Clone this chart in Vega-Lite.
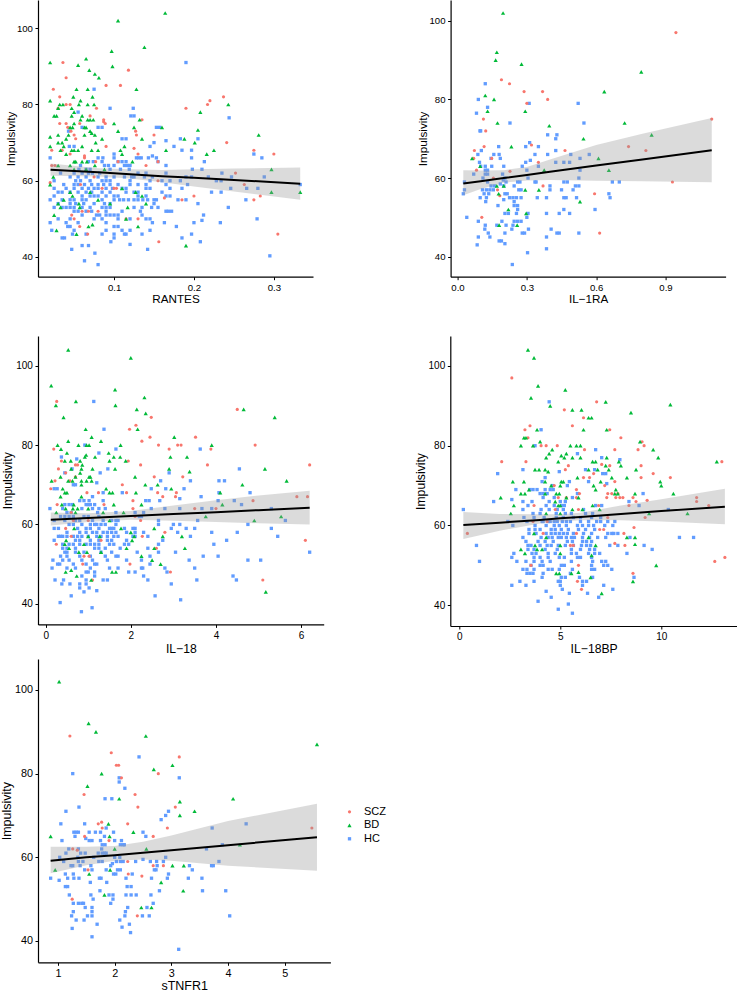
{"$schema":"https://vega.github.io/schema/vega-lite/v6.json","background":"white","padding":0,"config":{"view":{"stroke":null},"font":"Liberation Sans","axis":{"grid":false,"domainColor":"#000","domainWidth":1.2,"tickColor":"#000","tickWidth":1,"tickSize":3,"labelColor":"#000","labelFont":"Liberation Sans","labelPadding":2.6,"titleFont":"Liberation Sans","titleFontWeight":"normal","titleColor":"#000"}},"datasets":{
"a":[
{"x":0.19,"y":91,"g":"HC"},{"x":0.075,"y":84,"g":"HC"},{"x":0.095,"y":79,"g":"HC"},{"x":0.124,"y":79,"g":"HC"},{"x":0.055,"y":78,"g":"HC"},{"x":0.121,"y":77,"g":"HC"},{"x":0.125,"y":77,"g":"HC"},{"x":0.244,"y":76.5,"g":"HC"},{"x":0.06,"y":74,"g":"HC"},{"x":0.08,"y":74,"g":"HC"},{"x":0.085,"y":74,"g":"HC"},{"x":0.153,"y":74,"g":"HC"},{"x":0.157,"y":74,"g":"HC"},{"x":0.043,"y":73,"g":"HC"},{"x":0.11,"y":71,"g":"HC"},{"x":0.115,"y":71,"g":"HC"},{"x":0.183,"y":71,"g":"HC"},{"x":0.205,"y":71,"g":"HC"},{"x":0.165,"y":70.5,"g":"HC"},{"x":0.15,"y":70,"g":"HC"},{"x":0.044,"y":69,"g":"HC"},{"x":0.05,"y":69,"g":"HC"},{"x":0.145,"y":69,"g":"HC"},{"x":0.175,"y":69,"g":"HC"},{"x":0.185,"y":68,"g":"HC"},{"x":0.197,"y":68,"g":"HC"},{"x":0.1,"y":67,"g":"HC"},{"x":0.275,"y":67,"g":"HC"},{"x":0.148,"y":66.5,"g":"HC"},
{"x":0.02,"y":66,"g":"HC"},{"x":0.08,"y":66,"g":"HC"},{"x":0.086,"y":66,"g":"HC"},{"x":0.1,"y":66,"g":"HC"},{"x":0.128,"y":66,"g":"HC"},{"x":0.131,"y":66,"g":"HC"},{"x":0.134,"y":66,"g":"HC"},{"x":0.143,"y":66,"g":"HC"},{"x":0.153,"y":66,"g":"HC"},{"x":0.197,"y":66,"g":"HC"},{"x":0.285,"y":66,"g":"HC"},
{"x":0.068,"y":65,"g":"HC"},{"x":0.074,"y":65,"g":"HC"},{"x":0.085,"y":65,"g":"HC"},{"x":0.105,"y":65,"g":"HC"},{"x":0.11,"y":65,"g":"HC"},{"x":0.115,"y":65,"g":"HC"},{"x":0.213,"y":65,"g":"HC"},{"x":0.155,"y":65,"g":"HC"},
{"x":0.058,"y":64,"g":"HC"},{"x":0.088,"y":64,"g":"HC"},{"x":0.093,"y":64,"g":"HC"},{"x":0.1,"y":64,"g":"HC"},{"x":0.113,"y":64,"g":"HC"},{"x":0.117,"y":64,"g":"HC"},{"x":0.12,"y":64,"g":"HC"},{"x":0.165,"y":64,"g":"HC"},
{"x":0.056,"y":63,"g":"HC"},{"x":0.065,"y":63,"g":"HC"},{"x":0.07,"y":63,"g":"HC"},{"x":0.095,"y":63,"g":"HC"},{"x":0.108,"y":63,"g":"HC"},{"x":0.119,"y":63,"g":"HC"},{"x":0.198,"y":63,"g":"HC"},{"x":0.21,"y":63,"g":"HC"},
{"x":0.033,"y":62,"g":"HC"},{"x":0.05,"y":62,"g":"HC"},{"x":0.06,"y":62,"g":"HC"},{"x":0.068,"y":62,"g":"HC"},{"x":0.073,"y":62,"g":"HC"},{"x":0.082,"y":62,"g":"HC"},{"x":0.13,"y":62,"g":"HC"},{"x":0.14,"y":62,"g":"HC"},{"x":0.165,"y":62,"g":"HC"},{"x":0.235,"y":62,"g":"HC"},
{"x":0.045,"y":61,"g":"HC"},{"x":0.055,"y":61,"g":"HC"},{"x":0.065,"y":61,"g":"HC"},{"x":0.08,"y":61,"g":"HC"},{"x":0.09,"y":61,"g":"HC"},{"x":0.1,"y":61,"g":"HC"},{"x":0.113,"y":61,"g":"HC"},{"x":0.122,"y":61,"g":"HC"},{"x":0.125,"y":61,"g":"HC"},{"x":0.138,"y":61,"g":"HC"},{"x":0.148,"y":61,"g":"HC"},{"x":0.19,"y":61,"g":"HC"},{"x":0.197,"y":61,"g":"HC"},{"x":0.218,"y":61,"g":"HC"},{"x":0.247,"y":61,"g":"HC"},{"x":0.288,"y":61,"g":"HC"},
{"x":0.025,"y":60,"g":"HC"},{"x":0.052,"y":60,"g":"HC"},{"x":0.058,"y":60,"g":"HC"},{"x":0.07,"y":60,"g":"HC"},{"x":0.085,"y":60,"g":"HC"},{"x":0.09,"y":60,"g":"HC"},{"x":0.095,"y":60,"g":"HC"},{"x":0.12,"y":60,"g":"HC"},{"x":0.145,"y":60,"g":"HC"},{"x":0.16,"y":60,"g":"HC"},{"x":0.17,"y":60,"g":"HC"},{"x":0.183,"y":60,"g":"HC"},{"x":0.228,"y":60,"g":"HC"},{"x":0.234,"y":60,"g":"HC"},
{"x":0.037,"y":59,"g":"HC"},{"x":0.05,"y":59,"g":"HC"},{"x":0.055,"y":59,"g":"HC"},{"x":0.063,"y":59,"g":"HC"},{"x":0.072,"y":59,"g":"HC"},{"x":0.08,"y":59,"g":"HC"},{"x":0.087,"y":59,"g":"HC"},{"x":0.095,"y":59,"g":"HC"},{"x":0.105,"y":59,"g":"HC"},{"x":0.12,"y":59,"g":"HC"},{"x":0.13,"y":59,"g":"HC"},{"x":0.14,"y":59,"g":"HC"},{"x":0.165,"y":59,"g":"HC"},{"x":0.192,"y":59,"g":"HC"},{"x":0.333,"y":59,"g":"HC"},
{"x":0.025,"y":58,"g":"HC"},{"x":0.04,"y":58,"g":"HC"},{"x":0.05,"y":58,"g":"HC"},{"x":0.06,"y":58,"g":"HC"},{"x":0.068,"y":58,"g":"HC"},{"x":0.075,"y":58,"g":"HC"},{"x":0.08,"y":58,"g":"HC"},{"x":0.09,"y":58,"g":"HC"},{"x":0.098,"y":58,"g":"HC"},{"x":0.11,"y":58,"g":"HC"},{"x":0.115,"y":58,"g":"HC"},{"x":0.14,"y":58,"g":"HC"},{"x":0.145,"y":58,"g":"HC"},{"x":0.17,"y":58,"g":"HC"},{"x":0.185,"y":58,"g":"HC"},{"x":0.246,"y":58,"g":"HC"},{"x":0.266,"y":58,"g":"HC"},{"x":0.28,"y":58,"g":"HC"},
{"x":0.03,"y":57,"g":"HC"},{"x":0.035,"y":57,"g":"HC"},{"x":0.045,"y":57,"g":"HC"},{"x":0.055,"y":57,"g":"HC"},{"x":0.065,"y":57,"g":"HC"},{"x":0.072,"y":57,"g":"HC"},{"x":0.085,"y":57,"g":"HC"},{"x":0.095,"y":57,"g":"HC"},{"x":0.115,"y":57,"g":"HC"},{"x":0.125,"y":57,"g":"HC"},{"x":0.13,"y":57,"g":"HC"},{"x":0.16,"y":57,"g":"HC"},{"x":0.222,"y":57,"g":"HC"},{"x":0.234,"y":57,"g":"HC"},
{"x":0.025,"y":56,"g":"HC"},{"x":0.06,"y":56,"g":"HC"},{"x":0.07,"y":56,"g":"HC"},{"x":0.075,"y":56,"g":"HC"},{"x":0.08,"y":56,"g":"HC"},{"x":0.09,"y":56,"g":"HC"},{"x":0.1,"y":56,"g":"HC"},{"x":0.105,"y":56,"g":"HC"},{"x":0.13,"y":56,"g":"HC"},{"x":0.14,"y":56,"g":"HC"},{"x":0.165,"y":56,"g":"HC"},{"x":0.17,"y":56,"g":"HC"},
{"x":0.02,"y":55,"g":"HC"},{"x":0.035,"y":55,"g":"HC"},{"x":0.045,"y":55,"g":"HC"},{"x":0.05,"y":55,"g":"HC"},{"x":0.06,"y":55,"g":"HC"},{"x":0.065,"y":55,"g":"HC"},{"x":0.085,"y":55,"g":"HC"},{"x":0.1,"y":55,"g":"HC"},{"x":0.107,"y":55,"g":"HC"},{"x":0.112,"y":55,"g":"HC"},{"x":0.118,"y":55,"g":"HC"},{"x":0.125,"y":55,"g":"HC"},{"x":0.13,"y":55,"g":"HC"},{"x":0.136,"y":55,"g":"HC"},{"x":0.142,"y":55,"g":"HC"},{"x":0.15,"y":55,"g":"HC"},{"x":0.153,"y":55,"g":"HC"},{"x":0.18,"y":55,"g":"HC"},{"x":0.19,"y":55,"g":"HC"},{"x":0.265,"y":55,"g":"HC"},
{"x":0.03,"y":54,"g":"HC"},{"x":0.045,"y":54,"g":"HC"},{"x":0.052,"y":54,"g":"HC"},{"x":0.062,"y":54,"g":"HC"},{"x":0.075,"y":54,"g":"HC"},{"x":0.088,"y":54,"g":"HC"},{"x":0.095,"y":54,"g":"HC"},{"x":0.15,"y":54,"g":"HC"},{"x":0.205,"y":54,"g":"HC"},
{"x":0.025,"y":53,"g":"HC"},{"x":0.035,"y":53,"g":"HC"},{"x":0.04,"y":53,"g":"HC"},{"x":0.045,"y":53,"g":"HC"},{"x":0.05,"y":53,"g":"HC"},{"x":0.06,"y":53,"g":"HC"},{"x":0.07,"y":53,"g":"HC"},{"x":0.085,"y":53,"g":"HC"},{"x":0.09,"y":53,"g":"HC"},{"x":0.095,"y":53,"g":"HC"},{"x":0.125,"y":53,"g":"HC"},{"x":0.135,"y":53,"g":"HC"},{"x":0.147,"y":53,"g":"HC"},{"x":0.155,"y":53,"g":"HC"},{"x":0.243,"y":53,"g":"HC"},
{"x":0.05,"y":52,"g":"HC"},{"x":0.055,"y":52,"g":"HC"},{"x":0.065,"y":52,"g":"HC"},{"x":0.072,"y":52,"g":"HC"},{"x":0.09,"y":52,"g":"HC"},{"x":0.11,"y":52,"g":"HC"},{"x":0.133,"y":52,"g":"HC"},{"x":0.165,"y":52,"g":"HC"},{"x":0.168,"y":52,"g":"HC"},{"x":0.172,"y":52,"g":"HC"},
{"x":0.06,"y":51,"g":"HC"},{"x":0.078,"y":51,"g":"HC"},{"x":0.082,"y":51,"g":"HC"},{"x":0.09,"y":51,"g":"HC"},{"x":0.095,"y":51,"g":"HC"},{"x":0.1,"y":51,"g":"HC"},{"x":0.105,"y":51,"g":"HC"},{"x":0.135,"y":51,"g":"HC"},{"x":0.212,"y":51,"g":"HC"},
{"x":0.03,"y":50,"g":"HC"},{"x":0.045,"y":50,"g":"HC"},{"x":0.075,"y":50,"g":"HC"},{"x":0.085,"y":50,"g":"HC"},{"x":0.105,"y":50,"g":"HC"},{"x":0.12,"y":50,"g":"HC"},{"x":0.14,"y":50,"g":"HC"},{"x":0.145,"y":50,"g":"HC"},{"x":0.21,"y":49.6,"g":"HC"},{"x":0.279,"y":50,"g":"HC"},
{"x":0.02,"y":49,"g":"HC"},{"x":0.04,"y":49,"g":"HC"},{"x":0.055,"y":49,"g":"HC"},{"x":0.09,"y":49,"g":"HC"},{"x":0.148,"y":49,"g":"HC"},{"x":0.163,"y":49,"g":"HC"},{"x":0.2,"y":49,"g":"HC"},{"x":0.233,"y":49,"g":"HC"},
{"x":0.042,"y":48,"g":"HC"},{"x":0.045,"y":48,"g":"HC"},{"x":0.1,"y":48,"g":"HC"},{"x":0.105,"y":48,"g":"HC"},{"x":0.178,"y":48,"g":"HC"},{"x":0.022,"y":47,"g":"HC"},{"x":0.05,"y":47,"g":"HC"},{"x":0.09,"y":47,"g":"HC"},{"x":0.11,"y":47,"g":"HC"},{"x":0.12,"y":47,"g":"HC"},{"x":0.145,"y":47,"g":"HC"},
{"x":0.048,"y":46,"g":"HC"},{"x":0.065,"y":46,"g":"HC"},{"x":0.085,"y":46,"g":"HC"},{"x":0.1,"y":46,"g":"HC"},{"x":0.113,"y":46,"g":"HC"},{"x":0.115,"y":46,"g":"HC"},{"x":0.135,"y":46,"g":"HC"},{"x":0.197,"y":46,"g":"HC"},{"x":0.035,"y":45,"g":"HC"},{"x":0.038,"y":45,"g":"HC"},{"x":0.1,"y":45,"g":"HC"},{"x":0.185,"y":45,"g":"HC"},{"x":0.096,"y":44,"g":"HC"},{"x":0.208,"y":44,"g":"HC"},{"x":0.06,"y":43,"g":"HC"},{"x":0.068,"y":43,"g":"HC"},{"x":0.12,"y":43.3,"g":"HC"},{"x":0.047,"y":42,"g":"HC"},{"x":0.142,"y":42,"g":"HC"},{"x":0.076,"y":41,"g":"HC"},{"x":0.295,"y":40.3,"g":"HC"},{"x":0.063,"y":39,"g":"HC"},{"x":0.08,"y":38,"g":"HC"},
{"x":0.036,"y":91,"g":"SCZ"},{"x":0.118,"y":89,"g":"SCZ"},{"x":0.04,"y":87,"g":"SCZ"},{"x":0.09,"y":85,"g":"SCZ"},{"x":0.108,"y":85,"g":"SCZ"},{"x":0.024,"y":84,"g":"SCZ"},{"x":0.032,"y":82,"g":"SCZ"},{"x":0.237,"y":82,"g":"SCZ"},{"x":0.22,"y":81,"g":"SCZ"},{"x":0.04,"y":80,"g":"SCZ"},{"x":0.045,"y":80,"g":"SCZ"},{"x":0.217,"y":80,"g":"SCZ"},{"x":0.03,"y":79,"g":"SCZ"},{"x":0.078,"y":79,"g":"SCZ"},{"x":0.19,"y":79,"g":"SCZ"},{"x":0.07,"y":77,"g":"SCZ"},{"x":0.087,"y":76,"g":"SCZ"},{"x":0.135,"y":76,"g":"SCZ"},{"x":0.087,"y":75.5,"g":"SCZ"},{"x":0.032,"y":75,"g":"SCZ"},{"x":0.04,"y":75,"g":"SCZ"},{"x":0.057,"y":75,"g":"SCZ"},{"x":0.089,"y":75,"g":"SCZ"},{"x":0.042,"y":74,"g":"SCZ"},{"x":0.046,"y":73,"g":"SCZ"},{"x":0.127,"y":73,"g":"SCZ"},{"x":0.128,"y":72,"g":"SCZ"},{"x":0.15,"y":72,"g":"SCZ"},{"x":0.05,"y":72,"g":"SCZ"},{"x":0.052,"y":71,"g":"SCZ"},{"x":0.241,"y":70,"g":"SCZ"},{"x":0.09,"y":69,"g":"SCZ"},{"x":0.125,"y":68.5,"g":"SCZ"},{"x":0.022,"y":68,"g":"SCZ"},{"x":0.035,"y":68,"g":"SCZ"},{"x":0.275,"y":68,"g":"SCZ"},{"x":0.045,"y":67,"g":"SCZ"},{"x":0.3,"y":67,"g":"SCZ"},{"x":0.13,"y":67,"g":"SCZ"},{"x":0.063,"y":66,"g":"SCZ"},{"x":0.063,"y":66.5,"g":"SCZ"},{"x":0.077,"y":65,"g":"SCZ"},{"x":0.105,"y":65,"g":"SCZ"},{"x":0.155,"y":65,"g":"SCZ"},{"x":0.022,"y":64,"g":"SCZ"},{"x":0.026,"y":64,"g":"SCZ"},{"x":0.14,"y":64,"g":"SCZ"},{"x":0.075,"y":61,"g":"SCZ"},{"x":0.252,"y":62,"g":"SCZ"},{"x":0.155,"y":60,"g":"SCZ"},{"x":0.02,"y":59.5,"g":"SCZ"},{"x":0.058,"y":59,"g":"SCZ"},{"x":0.263,"y":59,"g":"SCZ"},{"x":0.085,"y":58,"g":"SCZ"},{"x":0.1,"y":58,"g":"SCZ"},{"x":0.103,"y":58,"g":"SCZ"},{"x":0.283,"y":56,"g":"SCZ"},{"x":0.2,"y":56,"g":"SCZ"},{"x":0.163,"y":55.5,"g":"SCZ"},{"x":0.185,"y":55,"g":"SCZ"},{"x":0.275,"y":55,"g":"SCZ"},{"x":0.06,"y":52,"g":"SCZ"},{"x":0.068,"y":52,"g":"SCZ"},{"x":0.08,"y":52,"g":"SCZ"},{"x":0.047,"y":51,"g":"SCZ"},{"x":0.05,"y":50,"g":"SCZ"},{"x":0.115,"y":50,"g":"SCZ"},{"x":0.13,"y":50,"g":"SCZ"},{"x":0.057,"y":48,"g":"SCZ"},{"x":0.067,"y":46,"g":"SCZ"},{"x":0.305,"y":46,"g":"SCZ"},{"x":0.156,"y":44,"g":"SCZ"},
{"x":0.164,"y":104,"g":"BD"},{"x":0.105,"y":102,"g":"BD"},{"x":0.138,"y":95,"g":"BD"},{"x":0.097,"y":94,"g":"BD"},{"x":0.065,"y":92,"g":"BD"},{"x":0.02,"y":91,"g":"BD"},{"x":0.055,"y":90.3,"g":"BD"},{"x":0.098,"y":90,"g":"BD"},{"x":0.069,"y":89,"g":"BD"},{"x":0.076,"y":88,"g":"BD"},{"x":0.081,"y":87,"g":"BD"},{"x":0.053,"y":84,"g":"BD"},{"x":0.067,"y":84,"g":"BD"},{"x":0.128,"y":84,"g":"BD"},{"x":0.049,"y":82,"g":"BD"},{"x":0.073,"y":82,"g":"BD"},{"x":0.02,"y":81,"g":"BD"},{"x":0.058,"y":81,"g":"BD"},{"x":0.032,"y":80,"g":"BD"},{"x":0.036,"y":80,"g":"BD"},{"x":0.056,"y":80,"g":"BD"},{"x":0.067,"y":80,"g":"BD"},{"x":0.075,"y":80,"g":"BD"},{"x":0.243,"y":80,"g":"BD"},{"x":0.03,"y":79,"g":"BD"},{"x":0.047,"y":79,"g":"BD"},{"x":0.05,"y":78,"g":"BD"},{"x":0.208,"y":78,"g":"BD"},{"x":0.025,"y":77,"g":"BD"},{"x":0.028,"y":77,"g":"BD"},{"x":0.06,"y":77,"g":"BD"},{"x":0.047,"y":77,"g":"BD"},{"x":0.058,"y":76,"g":"BD"},{"x":0.067,"y":76,"g":"BD"},{"x":0.07,"y":76,"g":"BD"},{"x":0.074,"y":76,"g":"BD"},{"x":0.132,"y":76,"g":"BD"},{"x":0.05,"y":75,"g":"BD"},{"x":0.1,"y":75,"g":"BD"},{"x":0.045,"y":74,"g":"BD"},{"x":0.048,"y":74,"g":"BD"},{"x":0.063,"y":74,"g":"BD"},{"x":0.065,"y":74,"g":"BD"},{"x":0.125,"y":74,"g":"BD"},{"x":0.16,"y":74,"g":"BD"},{"x":0.07,"y":73,"g":"BD"},{"x":0.105,"y":73,"g":"BD"},{"x":0.205,"y":73.3,"g":"BD"},{"x":0.072,"y":72.5,"g":"BD"},{"x":0.076,"y":72,"g":"BD"},{"x":0.02,"y":71.5,"g":"BD"},{"x":0.03,"y":72,"g":"BD"},{"x":0.043,"y":72,"g":"BD"},{"x":0.063,"y":72,"g":"BD"},{"x":0.281,"y":72,"g":"BD"},{"x":0.04,"y":71,"g":"BD"},{"x":0.135,"y":71,"g":"BD"},{"x":0.188,"y":71,"g":"BD"},{"x":0.085,"y":71,"g":"BD"},{"x":0.035,"y":70,"g":"BD"},{"x":0.03,"y":70,"g":"BD"},{"x":0.077,"y":70,"g":"BD"},{"x":0.201,"y":70,"g":"BD"},{"x":0.02,"y":69,"g":"BD"},{"x":0.037,"y":69,"g":"BD"},{"x":0.06,"y":69,"g":"BD"},{"x":0.113,"y":69,"g":"BD"},{"x":0.033,"y":68,"g":"BD"},{"x":0.047,"y":68,"g":"BD"},{"x":0.05,"y":68,"g":"BD"},{"x":0.055,"y":68,"g":"BD"},{"x":0.072,"y":68,"g":"BD"},{"x":0.08,"y":68,"g":"BD"},{"x":0.108,"y":68,"g":"BD"},{"x":0.165,"y":68,"g":"BD"},{"x":0.225,"y":68,"g":"BD"},{"x":0.04,"y":67,"g":"BD"},{"x":0.11,"y":67,"g":"BD"},{"x":0.216,"y":67,"g":"BD"},{"x":0.05,"y":65,"g":"BD"},{"x":0.052,"y":65,"g":"BD"},{"x":0.06,"y":65,"g":"BD"},{"x":0.066,"y":65,"g":"BD"},{"x":0.123,"y":65,"g":"BD"},{"x":0.03,"y":64,"g":"BD"},{"x":0.045,"y":64,"g":"BD"},{"x":0.076,"y":64,"g":"BD"},{"x":0.05,"y":63,"g":"BD"},{"x":0.065,"y":63,"g":"BD"},{"x":0.088,"y":63,"g":"BD"},{"x":0.297,"y":63,"g":"BD"},{"x":0.024,"y":61,"g":"BD"},{"x":0.02,"y":59,"g":"BD"},{"x":0.045,"y":57,"g":"BD"},{"x":0.11,"y":58,"g":"BD"},{"x":0.07,"y":57,"g":"BD"},{"x":0.127,"y":57,"g":"BD"},{"x":0.297,"y":57,"g":"BD"},{"x":0.333,"y":57,"g":"BD"},{"x":0.048,"y":56,"g":"BD"},{"x":0.135,"y":56,"g":"BD"},{"x":0.037,"y":55,"g":"BD"},{"x":0.08,"y":55,"g":"BD"},{"x":0.03,"y":54,"g":"BD"},{"x":0.056,"y":54,"g":"BD"},{"x":0.095,"y":54,"g":"BD"},{"x":0.14,"y":54,"g":"BD"},{"x":0.033,"y":53,"g":"BD"},{"x":0.057,"y":53,"g":"BD"},{"x":0.117,"y":53,"g":"BD"},{"x":0.025,"y":51,"g":"BD"},{"x":0.115,"y":50,"g":"BD"},{"x":0.068,"y":48,"g":"BD"},{"x":0.13,"y":48,"g":"BD"},{"x":0.073,"y":48.5,"g":"BD"},{"x":0.028,"y":47,"g":"BD"},{"x":0.053,"y":46,"g":"BD"},{"x":0.19,"y":43,"g":"BD"}],
"as":[{"x":0.0205,"lo":61.3,"mid":62.9,"hi":64.5},{"x":0.08,"lo":61.1,"mid":62.2,"hi":63.3},{"x":0.12,"lo":60.6,"mid":61.7,"hi":63.0},{"x":0.16,"lo":59.6,"mid":61.2,"hi":62.8},{"x":0.2,"lo":58.5,"mid":60.8,"hi":63.0},{"x":0.25,"lo":57.2,"mid":60.2,"hi":63.2},{"x":0.333,"lo":55.0,"mid":59.2,"hi":63.5}],
"b":[
{"x":0.12,"y":84,"g":"HC"},{"x":0.09,"y":80,"g":"HC"},{"x":0.31,"y":79,"g":"HC"},{"x":0.522,"y":79,"g":"HC"},{"x":0.13,"y":78,"g":"HC"},{"x":0.082,"y":76.5,"g":"HC"},{"x":0.227,"y":74,"g":"HC"},{"x":0.547,"y":74,"g":"HC"},{"x":0.097,"y":72,"g":"HC"},{"x":0.1,"y":72,"g":"HC"},{"x":0.39,"y":71,"g":"HC"},{"x":0.43,"y":71,"g":"HC"},{"x":0.425,"y":70,"g":"HC"},{"x":0.312,"y":69,"g":"HC"},{"x":0.178,"y":68,"g":"HC"},{"x":0.295,"y":68,"g":"HC"},{"x":0.35,"y":68,"g":"HC"},{"x":0.103,"y":67,"g":"HC"},{"x":0.425,"y":67,"g":"HC"},{"x":0.088,"y":66,"g":"HC"},{"x":0.157,"y":66,"g":"HC"},{"x":0.18,"y":66,"g":"HC"},{"x":0.335,"y":66,"g":"HC"},{"x":0.39,"y":66,"g":"HC"},{"x":0.57,"y":66,"g":"HC"},{"x":0.49,"y":66,"g":"HC"},{"x":0.145,"y":65,"g":"HC"},{"x":0.185,"y":65,"g":"HC"},{"x":0.53,"y":65,"g":"HC"},{"x":0.315,"y":64.5,"g":"HC"},{"x":0.095,"y":64,"g":"HC"},{"x":0.295,"y":64,"g":"HC"},{"x":0.425,"y":64,"g":"HC"},{"x":0.46,"y":64,"g":"HC"},{"x":0.485,"y":64,"g":"HC"},{"x":0.1,"y":63,"g":"HC"},{"x":0.12,"y":63,"g":"HC"},{"x":0.148,"y":63,"g":"HC"},{"x":0.2,"y":63,"g":"HC"},{"x":0.28,"y":63,"g":"HC"},{"x":0.35,"y":63,"g":"HC"},{"x":0.12,"y":62,"g":"HC"},{"x":0.13,"y":62,"g":"HC"},{"x":0.3,"y":62,"g":"HC"},{"x":0.53,"y":62,"g":"HC"},{"x":0.07,"y":61,"g":"HC"},{"x":0.12,"y":61,"g":"HC"},{"x":0.13,"y":61,"g":"HC"},{"x":0.195,"y":61,"g":"HC"},{"x":0.11,"y":60,"g":"HC"},{"x":0.205,"y":60,"g":"HC"},{"x":0.305,"y":60,"g":"HC"},{"x":0.525,"y":60,"g":"HC"},{"x":0.198,"y":59.5,"g":"HC"},{"x":0.03,"y":59,"g":"HC"},{"x":0.13,"y":59,"g":"HC"},{"x":0.21,"y":59,"g":"HC"},{"x":0.26,"y":59,"g":"HC"},{"x":0.27,"y":59,"g":"HC"},{"x":0.335,"y":59,"g":"HC"},{"x":0.34,"y":59,"g":"HC"},{"x":0.46,"y":59,"g":"HC"},{"x":0.475,"y":59,"g":"HC"},{"x":0.67,"y":59,"g":"HC"},{"x":0.7,"y":59,"g":"HC"},{"x":0.185,"y":58.5,"g":"HC"},{"x":0.145,"y":58,"g":"HC"},{"x":0.16,"y":58,"g":"HC"},{"x":0.245,"y":58,"g":"HC"},{"x":0.4,"y":58,"g":"HC"},{"x":0.51,"y":58,"g":"HC"},{"x":0.525,"y":58,"g":"HC"},{"x":0.2,"y":58,"g":"HC"},{"x":0.03,"y":57,"g":"HC"},{"x":0.108,"y":57,"g":"HC"},{"x":0.125,"y":57,"g":"HC"},{"x":0.14,"y":57,"g":"HC"},{"x":0.155,"y":57,"g":"HC"},{"x":0.265,"y":57,"g":"HC"},{"x":0.275,"y":57,"g":"HC"},{"x":0.4,"y":57,"g":"HC"},{"x":0.45,"y":57,"g":"HC"},{"x":0.5,"y":57,"g":"HC"},{"x":0.025,"y":56,"g":"HC"},{"x":0.115,"y":56,"g":"HC"},{"x":0.135,"y":56,"g":"HC"},{"x":0.205,"y":56,"g":"HC"},{"x":0.215,"y":56,"g":"HC"},{"x":0.655,"y":56,"g":"HC"},{"x":0.098,"y":55,"g":"HC"},{"x":0.125,"y":55,"g":"HC"},{"x":0.225,"y":55,"g":"HC"},{"x":0.24,"y":55,"g":"HC"},{"x":0.255,"y":55,"g":"HC"},{"x":0.275,"y":55,"g":"HC"},{"x":0.345,"y":55,"g":"HC"},{"x":0.385,"y":55,"g":"HC"},{"x":0.46,"y":55,"g":"HC"},{"x":0.47,"y":55,"g":"HC"},{"x":0.515,"y":55,"g":"HC"},{"x":0.66,"y":55,"g":"HC"},{"x":0.2,"y":54.5,"g":"HC"},{"x":0.122,"y":54,"g":"HC"},{"x":0.245,"y":54,"g":"HC"},{"x":0.175,"y":53,"g":"HC"},{"x":0.245,"y":53,"g":"HC"},{"x":0.26,"y":53,"g":"HC"},{"x":0.26,"y":52,"g":"HC"},{"x":0.46,"y":52,"g":"HC"},{"x":0.595,"y":52,"g":"HC"},{"x":0.205,"y":51,"g":"HC"},{"x":0.22,"y":51,"g":"HC"},{"x":0.255,"y":51,"g":"HC"},{"x":0.305,"y":51,"g":"HC"},{"x":0.385,"y":51,"g":"HC"},{"x":0.44,"y":51,"g":"HC"},{"x":0.485,"y":51,"g":"HC"},{"x":0.04,"y":50,"g":"HC"},{"x":0.3,"y":50,"g":"HC"},{"x":0.09,"y":49,"g":"HC"},{"x":0.192,"y":49,"g":"HC"},{"x":0.245,"y":49,"g":"HC"},{"x":0.26,"y":49,"g":"HC"},{"x":0.275,"y":49,"g":"HC"},{"x":0.12,"y":48,"g":"HC"},{"x":0.17,"y":48,"g":"HC"},{"x":0.21,"y":48,"g":"HC"},{"x":0.24,"y":48,"g":"HC"},{"x":0.118,"y":47,"g":"HC"},{"x":0.235,"y":47,"g":"HC"},{"x":0.307,"y":47,"g":"HC"},{"x":0.405,"y":47,"g":"HC"},{"x":0.133,"y":46,"g":"HC"},{"x":0.205,"y":46,"g":"HC"},{"x":0.28,"y":46,"g":"HC"},{"x":0.29,"y":46,"g":"HC"},{"x":0.43,"y":46,"g":"HC"},{"x":0.44,"y":46,"g":"HC"},{"x":0.525,"y":46,"g":"HC"},{"x":0.09,"y":45,"g":"HC"},{"x":0.14,"y":45,"g":"HC"},{"x":0.385,"y":45,"g":"HC"},{"x":0.18,"y":44,"g":"HC"},{"x":0.19,"y":44,"g":"HC"},{"x":0.205,"y":43.3,"g":"HC"},{"x":0.085,"y":43,"g":"HC"},{"x":0.385,"y":42,"g":"HC"},{"x":0.303,"y":41,"g":"HC"},{"x":0.237,"y":38,"g":"HC"},
{"x":0.945,"y":97,"g":"SCZ"},{"x":0.19,"y":85,"g":"SCZ"},{"x":0.225,"y":84,"g":"SCZ"},{"x":0.288,"y":82,"g":"SCZ"},{"x":0.368,"y":82,"g":"SCZ"},{"x":0.39,"y":80,"g":"SCZ"},{"x":0.3,"y":79,"g":"SCZ"},{"x":0.112,"y":75,"g":"SCZ"},{"x":1.1,"y":75,"g":"SCZ"},{"x":0.122,"y":72,"g":"SCZ"},{"x":0.32,"y":68.4,"g":"SCZ"},{"x":0.115,"y":68,"g":"SCZ"},{"x":0.74,"y":68,"g":"SCZ"},{"x":0.073,"y":67,"g":"SCZ"},{"x":0.465,"y":67,"g":"SCZ"},{"x":0.815,"y":67,"g":"SCZ"},{"x":0.07,"y":65,"g":"SCZ"},{"x":0.148,"y":65,"g":"SCZ"},{"x":0.35,"y":64,"g":"SCZ"},{"x":0.082,"y":62,"g":"SCZ"},{"x":0.227,"y":61.7,"g":"SCZ"},{"x":0.155,"y":60,"g":"SCZ"},{"x":0.93,"y":59,"g":"SCZ"},{"x":0.37,"y":58,"g":"SCZ"},{"x":0.173,"y":57,"g":"SCZ"},{"x":0.593,"y":56,"g":"SCZ"},{"x":0.183,"y":55.5,"g":"SCZ"},{"x":0.105,"y":50,"g":"SCZ"},{"x":0.615,"y":46,"g":"SCZ"},
{"x":0.197,"y":102,"g":"BD"},{"x":0.17,"y":92,"g":"BD"},{"x":0.165,"y":90,"g":"BD"},{"x":0.277,"y":89,"g":"BD"},{"x":0.795,"y":87,"g":"BD"},{"x":0.635,"y":82,"g":"BD"},{"x":0.12,"y":81,"g":"BD"},{"x":0.158,"y":80,"g":"BD"},{"x":0.13,"y":77,"g":"BD"},{"x":0.293,"y":77,"g":"BD"},{"x":0.173,"y":74,"g":"BD"},{"x":0.723,"y":74,"g":"BD"},{"x":0.397,"y":73.3,"g":"BD"},{"x":0.84,"y":71,"g":"BD"},{"x":0.545,"y":70,"g":"BD"},{"x":0.233,"y":68,"g":"BD"},{"x":0.063,"y":65,"g":"BD"},{"x":0.61,"y":65,"g":"BD"},{"x":0.098,"y":63,"g":"BD"},{"x":0.375,"y":62,"g":"BD"},{"x":0.655,"y":62,"g":"BD"},{"x":0.17,"y":58,"g":"BD"},{"x":0.2,"y":58,"g":"BD"},{"x":0.293,"y":57,"g":"BD"},{"x":0.352,"y":57,"g":"BD"},{"x":0.178,"y":56,"g":"BD"},{"x":0.53,"y":54,"g":"BD"},{"x":0.22,"y":52,"g":"BD"},{"x":0.297,"y":51,"g":"BD"},{"x":0.18,"y":48,"g":"BD"},{"x":0.258,"y":48,"g":"BD"}],
"bs":[{"x":0.025,"lo":55.6,"mid":58.6,"hi":62},{"x":0.1,"lo":57.2,"mid":59.2,"hi":61.9},{"x":0.2,"lo":58.8,"mid":60,"hi":62},{"x":0.3,"lo":59.4,"mid":60.8,"hi":62.8},{"x":0.4,"lo":59.5,"mid":61.6,"hi":64.7},{"x":0.6,"lo":59.3,"mid":63.2,"hi":68.4},{"x":0.8,"lo":59.2,"mid":64.7,"hi":71.3},{"x":1.1,"lo":58.9,"mid":67.1,"hi":75.3}],
"c":[
{"x":1.13,"y":91,"g":"HC"},{"x":1.37,"y":84,"g":"HC"},{"x":0.92,"y":80,"g":"HC"},{"x":1.65,"y":79,"g":"HC"},{"x":3.63,"y":79,"g":"HC"},{"x":1.25,"y":78,"g":"HC"},{"x":0.37,"y":77,"g":"HC"},{"x":0.73,"y":76.5,"g":"HC"},{"x":0.62,"y":74,"g":"HC"},{"x":1.46,"y":74,"g":"HC"},{"x":4.55,"y":74,"g":"HC"},{"x":0.45,"y":73,"g":"HC"},{"x":1.28,"y":73,"g":"HC"},{"x":2.9,"y":73,"g":"HC"},{"x":4.07,"y":71,"g":"HC"},{"x":4.2,"y":71,"g":"HC"},{"x":3.4,"y":71,"g":"HC"},{"x":2.7,"y":71,"g":"HC"},{"x":1.2,"y":70.5,"g":"HC"},{"x":0.65,"y":70,"g":"HC"},{"x":0.7,"y":70,"g":"HC"},{"x":0.2,"y":69,"g":"HC"},{"x":0.27,"y":69,"g":"HC"},{"x":2.48,"y":69,"g":"HC"},{"x":2.82,"y":69,"g":"HC"},{"x":3.25,"y":69,"g":"HC"},{"x":1.35,"y":68,"g":"HC"},{"x":1.8,"y":68,"g":"HC"},{"x":4.07,"y":68,"g":"HC"},{"x":4.8,"y":68,"g":"HC"},{"x":1.1,"y":67,"g":"HC"},{"x":3.65,"y":67,"g":"HC"},{"x":3.15,"y":66.5,"g":"HC"},{"x":0.8,"y":66,"g":"HC"},{"x":0.9,"y":66,"g":"HC"},{"x":1.02,"y":66,"g":"HC"},{"x":1.35,"y":66,"g":"HC"},{"x":2.35,"y":66,"g":"HC"},{"x":2.43,"y":66,"g":"HC"},{"x":2.68,"y":66,"g":"HC"},{"x":4.05,"y":66,"g":"HC"},{"x":4.43,"y":66,"g":"HC"},{"x":0.45,"y":65,"g":"HC"},{"x":0.55,"y":65,"g":"HC"},{"x":0.63,"y":65,"g":"HC"},{"x":0.95,"y":65,"g":"HC"},{"x":1,"y":65,"g":"HC"},{"x":1.05,"y":65,"g":"HC"},{"x":1.15,"y":65,"g":"HC"},{"x":4.6,"y":65,"g":"HC"},{"x":0.1,"y":64,"g":"HC"},{"x":0.4,"y":64,"g":"HC"},{"x":0.85,"y":64,"g":"HC"},{"x":1.1,"y":64,"g":"HC"},{"x":1.25,"y":64,"g":"HC"},{"x":1.4,"y":64,"g":"HC"},{"x":2.48,"y":64,"g":"HC"},{"x":2.8,"y":64,"g":"HC"},{"x":3.15,"y":64,"g":"HC"},{"x":3.67,"y":64,"g":"HC"},{"x":3.9,"y":64,"g":"HC"},{"x":5.3,"y":64,"g":"HC"},{"x":0.5,"y":63,"g":"HC"},{"x":0.6,"y":63,"g":"HC"},{"x":1.22,"y":63,"g":"HC"},{"x":1.65,"y":63,"g":"HC"},{"x":2.1,"y":63,"g":"HC"},{"x":2.3,"y":63,"g":"HC"},{"x":0.35,"y":62,"g":"HC"},{"x":0.45,"y":62,"g":"HC"},{"x":0.55,"y":62,"g":"HC"},{"x":0.65,"y":62,"g":"HC"},{"x":0.9,"y":62,"g":"HC"},{"x":1,"y":62,"g":"HC"},{"x":1.25,"y":62,"g":"HC"},{"x":2.25,"y":62,"g":"HC"},{"x":2.2,"y":62,"g":"HC"},{"x":0.2,"y":61,"g":"HC"},{"x":0.45,"y":61,"g":"HC"},{"x":0.7,"y":61,"g":"HC"},{"x":0.8,"y":61,"g":"HC"},{"x":1.1,"y":61,"g":"HC"},{"x":1.35,"y":61,"g":"HC"},{"x":1.55,"y":61,"g":"HC"},{"x":1.65,"y":61,"g":"HC"},{"x":1.7,"y":61,"g":"HC"},{"x":2.65,"y":61,"g":"HC"},{"x":3.57,"y":61,"g":"HC"},{"x":5.63,"y":61,"g":"HC"},{"x":0.55,"y":60,"g":"HC"},{"x":0.65,"y":60,"g":"HC"},{"x":0.85,"y":60,"g":"HC"},{"x":1.05,"y":60,"g":"HC"},{"x":1.15,"y":60,"g":"HC"},{"x":1.2,"y":60,"g":"HC"},{"x":1.3,"y":60,"g":"HC"},{"x":1.4,"y":60,"g":"HC"},{"x":1.65,"y":60,"g":"HC"},{"x":2.65,"y":60,"g":"HC"},{"x":3,"y":60,"g":"HC"},{"x":3.15,"y":60,"g":"HC"},{"x":4.75,"y":60,"g":"HC"},{"x":0.2,"y":59,"g":"HC"},{"x":0.3,"y":59,"g":"HC"},{"x":0.75,"y":59,"g":"HC"},{"x":0.95,"y":59,"g":"HC"},{"x":1.05,"y":59,"g":"HC"},{"x":1.25,"y":59,"g":"HC"},{"x":1.5,"y":59,"g":"HC"},{"x":1.55,"y":59,"g":"HC"},{"x":1.6,"y":59,"g":"HC"},{"x":1.85,"y":59,"g":"HC"},{"x":2.1,"y":59,"g":"HC"},{"x":2.05,"y":59,"g":"HC"},{"x":2.95,"y":59,"g":"HC"},{"x":3.3,"y":59,"g":"HC"},{"x":3.5,"y":59,"g":"HC"},{"x":5.3,"y":59,"g":"HC"},{"x":0.5,"y":58,"g":"HC"},{"x":0.8,"y":58,"g":"HC"},{"x":0.95,"y":58,"g":"HC"},{"x":1.1,"y":58,"g":"HC"},{"x":1.2,"y":58,"g":"HC"},{"x":1.35,"y":58,"g":"HC"},{"x":1.45,"y":58,"g":"HC"},{"x":1.55,"y":58,"g":"HC"},{"x":1.65,"y":58,"g":"HC"},{"x":1.9,"y":58,"g":"HC"},{"x":2.1,"y":58,"g":"HC"},{"x":2.3,"y":58,"g":"HC"},{"x":3.1,"y":58,"g":"HC"},{"x":3.9,"y":58,"g":"HC"},{"x":4.5,"y":58,"g":"HC"},{"x":0.3,"y":57,"g":"HC"},{"x":0.35,"y":57,"g":"HC"},{"x":0.4,"y":57,"g":"HC"},{"x":0.5,"y":57,"g":"HC"},{"x":0.65,"y":57,"g":"HC"},{"x":0.75,"y":57,"g":"HC"},{"x":0.85,"y":57,"g":"HC"},{"x":1,"y":57,"g":"HC"},{"x":1.2,"y":57,"g":"HC"},{"x":1.3,"y":57,"g":"HC"},{"x":1.45,"y":57,"g":"HC"},{"x":1.6,"y":57,"g":"HC"},{"x":1.7,"y":57,"g":"HC"},{"x":2.05,"y":57,"g":"HC"},{"x":2.1,"y":57,"g":"HC"},{"x":2.4,"y":57,"g":"HC"},{"x":3.4,"y":57,"g":"HC"},{"x":5.45,"y":57,"g":"HC"},{"x":0.2,"y":56,"g":"HC"},{"x":0.7,"y":56,"g":"HC"},{"x":0.8,"y":56,"g":"HC"},{"x":1.05,"y":56,"g":"HC"},{"x":1.25,"y":56,"g":"HC"},{"x":1.45,"y":56,"g":"HC"},{"x":1.55,"y":56,"g":"HC"},{"x":1.9,"y":56,"g":"HC"},{"x":2.75,"y":56,"g":"HC"},{"x":4.25,"y":56,"g":"HC"},{"x":0.4,"y":55,"g":"HC"},{"x":0.55,"y":55,"g":"HC"},{"x":0.65,"y":55,"g":"HC"},{"x":0.8,"y":55,"g":"HC"},{"x":0.95,"y":55,"g":"HC"},{"x":1.05,"y":55,"g":"HC"},{"x":1.15,"y":55,"g":"HC"},{"x":1.25,"y":55,"g":"HC"},{"x":1.5,"y":55,"g":"HC"},{"x":1.6,"y":55,"g":"HC"},{"x":1.85,"y":55,"g":"HC"},{"x":1.95,"y":55,"g":"HC"},{"x":2.65,"y":55,"g":"HC"},{"x":3.95,"y":55,"g":"HC"},{"x":0.4,"y":54,"g":"HC"},{"x":0.5,"y":54,"g":"HC"},{"x":0.7,"y":54,"g":"HC"},{"x":1.15,"y":54,"g":"HC"},{"x":1.25,"y":54,"g":"HC"},{"x":1.4,"y":54,"g":"HC"},{"x":1.75,"y":54,"g":"HC"},{"x":2.4,"y":54,"g":"HC"},{"x":0.45,"y":53,"g":"HC"},{"x":0.5,"y":53,"g":"HC"},{"x":0.7,"y":53,"g":"HC"},{"x":0.9,"y":53,"g":"HC"},{"x":1.3,"y":53,"g":"HC"},{"x":1.55,"y":53,"g":"HC"},{"x":2.15,"y":53,"g":"HC"},{"x":2.65,"y":53,"g":"HC"},{"x":3.05,"y":53,"g":"HC"},{"x":0.35,"y":52,"g":"HC"},{"x":0.5,"y":52,"g":"HC"},{"x":0.8,"y":52,"g":"HC"},{"x":1.05,"y":52,"g":"HC"},{"x":1.4,"y":52,"g":"HC"},{"x":1.65,"y":52,"g":"HC"},{"x":1.7,"y":52,"g":"HC"},{"x":2.45,"y":52,"g":"HC"},{"x":3.7,"y":52,"g":"HC"},{"x":4.05,"y":52,"g":"HC"},{"x":0.17,"y":51,"g":"HC"},{"x":0.4,"y":51,"g":"HC"},{"x":0.55,"y":51,"g":"HC"},{"x":0.85,"y":51,"g":"HC"},{"x":1.1,"y":51,"g":"HC"},{"x":1.45,"y":51,"g":"HC"},{"x":1.9,"y":51,"g":"HC"},{"x":2.25,"y":51,"g":"HC"},{"x":3.37,"y":51,"g":"HC"},{"x":4.75,"y":51,"g":"HC"},{"x":5.05,"y":51,"g":"HC"},{"x":6.2,"y":53,"g":"HC"},{"x":0.28,"y":50,"g":"HC"},{"x":0.33,"y":50,"g":"HC"},{"x":0.65,"y":50,"g":"HC"},{"x":0.95,"y":50,"g":"HC"},{"x":1.15,"y":50,"g":"HC"},{"x":1.2,"y":50,"g":"HC"},{"x":2.45,"y":50,"g":"HC"},{"x":0.15,"y":49,"g":"HC"},{"x":0.5,"y":49,"g":"HC"},{"x":0.7,"y":49,"g":"HC"},{"x":1.05,"y":49,"g":"HC"},{"x":1.5,"y":49,"g":"HC"},{"x":1.7,"y":49,"g":"HC"},{"x":2.25,"y":49,"g":"HC"},{"x":2.28,"y":49,"g":"HC"},{"x":3.5,"y":49,"g":"HC"},{"x":2.8,"y":49,"g":"HC"},{"x":0.95,"y":48,"g":"HC"},{"x":1,"y":48,"g":"HC"},{"x":1.15,"y":48,"g":"HC"},{"x":1.95,"y":48,"g":"HC"},{"x":2.1,"y":48,"g":"HC"},{"x":2.85,"y":48,"g":"HC"},{"x":0.85,"y":47,"g":"HC"},{"x":1.15,"y":47,"g":"HC"},{"x":2.3,"y":47,"g":"HC"},{"x":4.4,"y":47,"g":"HC"},{"x":0.22,"y":46,"g":"HC"},{"x":0.42,"y":46,"g":"HC"},{"x":0.95,"y":46,"g":"HC"},{"x":1.35,"y":46,"g":"HC"},{"x":1.45,"y":46,"g":"HC"},{"x":2.4,"y":46,"g":"HC"},{"x":3.55,"y":46,"g":"HC"},{"x":4.48,"y":46,"g":"HC"},{"x":0.38,"y":45,"g":"HC"},{"x":0.57,"y":45,"g":"HC"},{"x":0.8,"y":45,"g":"HC"},{"x":0.95,"y":45,"g":"HC"},{"x":2.95,"y":45,"g":"HC"},{"x":0.8,"y":44,"g":"HC"},{"x":1.02,"y":44,"g":"HC"},{"x":0.9,"y":43,"g":"HC"},{"x":1.2,"y":43.3,"g":"HC"},{"x":0.6,"y":42,"g":"HC"},{"x":2.57,"y":42,"g":"HC"},{"x":3.17,"y":41,"g":"HC"},{"x":0.34,"y":40.3,"g":"HC"},{"x":1.09,"y":39,"g":"HC"},{"x":0.84,"y":38,"g":"HC"},
{"x":0.26,"y":91,"g":"SCZ"},{"x":4.5,"y":89,"g":"SCZ"},{"x":2.48,"y":87,"g":"SCZ"},{"x":2.12,"y":85,"g":"SCZ"},{"x":1.97,"y":84,"g":"SCZ"},{"x":2.45,"y":82,"g":"SCZ"},{"x":3.52,"y":82,"g":"SCZ"},{"x":2.26,"y":81,"g":"SCZ"},{"x":2.65,"y":80,"g":"SCZ"},{"x":3.1,"y":80,"g":"SCZ"},{"x":3.18,"y":80,"g":"SCZ"},{"x":4.92,"y":80,"g":"SCZ"},{"x":0.19,"y":79,"g":"SCZ"},{"x":2.9,"y":79,"g":"SCZ"},{"x":3.88,"y":79,"g":"SCZ"},{"x":0.37,"y":76,"g":"SCZ"},{"x":1.94,"y":76,"g":"SCZ"},{"x":0.7,"y":75,"g":"SCZ"},{"x":0.75,"y":75,"g":"SCZ"},{"x":2.23,"y":75,"g":"SCZ"},{"x":3.8,"y":75,"g":"SCZ"},{"x":6.2,"y":75,"g":"SCZ"},{"x":0.3,"y":74,"g":"SCZ"},{"x":0.47,"y":73,"g":"SCZ"},{"x":0.7,"y":72,"g":"SCZ"},{"x":2.55,"y":72,"g":"SCZ"},{"x":3.22,"y":72,"g":"SCZ"},{"x":0.22,"y":71,"g":"SCZ"},{"x":0.57,"y":71,"g":"SCZ"},{"x":1.8,"y":70,"g":"SCZ"},{"x":0.12,"y":69,"g":"SCZ"},{"x":0.97,"y":68,"g":"SCZ"},{"x":1.24,"y":68,"g":"SCZ"},{"x":1.9,"y":68,"g":"SCZ"},{"x":2.63,"y":68,"g":"SCZ"},{"x":3.07,"y":68,"g":"SCZ"},{"x":2.75,"y":67,"g":"SCZ"},{"x":3.05,"y":67,"g":"SCZ"},{"x":5.9,"y":67,"g":"SCZ"},{"x":6.15,"y":67,"g":"SCZ"},{"x":2.05,"y":66,"g":"SCZ"},{"x":4.87,"y":66,"g":"SCZ"},{"x":0.27,"y":65,"g":"SCZ"},{"x":1.37,"y":65,"g":"SCZ"},{"x":2.05,"y":64,"g":"SCZ"},{"x":3.5,"y":64,"g":"SCZ"},{"x":4,"y":64,"g":"SCZ"},{"x":0.6,"y":63,"g":"SCZ"},{"x":2.1,"y":62,"g":"SCZ"},{"x":0.65,"y":61,"g":"SCZ"},{"x":1,"y":61,"g":"SCZ"},{"x":2.23,"y":61,"g":"SCZ"},{"x":0.47,"y":59,"g":"SCZ"},{"x":2.8,"y":58,"g":"SCZ"},{"x":0.6,"y":57,"g":"SCZ"},{"x":2.27,"y":57,"g":"SCZ"},{"x":6.1,"y":56,"g":"SCZ"},{"x":1.3,"y":56,"g":"SCZ"},{"x":0.25,"y":55,"g":"SCZ"},{"x":2.6,"y":54,"g":"SCZ"},{"x":0.9,"y":52,"g":"SCZ"},{"x":1.02,"y":52,"g":"SCZ"},{"x":0.87,"y":50,"g":"SCZ"},{"x":1.98,"y":50,"g":"SCZ"},{"x":2.93,"y":48,"g":"SCZ"},{"x":1.1,"y":46,"g":"SCZ"},{"x":5.1,"y":46,"g":"SCZ"},
{"x":0.53,"y":104,"g":"BD"},{"x":2,"y":102,"g":"BD"},{"x":0.13,"y":95,"g":"BD"},{"x":1.63,"y":94,"g":"BD"},{"x":2.32,"y":92,"g":"BD"},{"x":0.71,"y":91,"g":"BD"},{"x":0.24,"y":90,"g":"BD"},{"x":1.64,"y":90,"g":"BD"},{"x":2.14,"y":89,"g":"BD"},{"x":4.65,"y":89,"g":"BD"},{"x":2.35,"y":88,"g":"BD"},{"x":0.42,"y":87,"g":"BD"},{"x":5.38,"y":87,"g":"BD"},{"x":0.94,"y":84,"g":"BD"},{"x":2.16,"y":84,"g":"BD"},{"x":1.08,"y":82,"g":"BD"},{"x":3.02,"y":82,"g":"BD"},{"x":0.53,"y":81,"g":"BD"},{"x":1.3,"y":81,"g":"BD"},{"x":0.28,"y":80,"g":"BD"},{"x":0.77,"y":80,"g":"BD"},{"x":0.96,"y":80,"g":"BD"},{"x":1.02,"y":80,"g":"BD"},{"x":1.76,"y":80,"g":"BD"},{"x":3.9,"y":80,"g":"BD"},{"x":0.36,"y":79,"g":"BD"},{"x":0.5,"y":78,"g":"BD"},{"x":1.48,"y":78,"g":"BD"},{"x":0.92,"y":77,"g":"BD"},{"x":0.95,"y":77.5,"g":"BD"},{"x":1.16,"y":77,"g":"BD"},{"x":1.6,"y":77,"g":"BD"},{"x":1.75,"y":77,"g":"BD"},{"x":2.93,"y":77,"g":"BD"},{"x":3.32,"y":77,"g":"BD"},{"x":0.45,"y":76,"g":"BD"},{"x":0.59,"y":76,"g":"BD"},{"x":0.81,"y":76,"g":"BD"},{"x":1.5,"y":76,"g":"BD"},{"x":1.88,"y":76,"g":"BD"},{"x":0.86,"y":75,"g":"BD"},{"x":0.6,"y":74,"g":"BD"},{"x":0.84,"y":74,"g":"BD"},{"x":1.1,"y":74,"g":"BD"},{"x":1.63,"y":74,"g":"BD"},{"x":2.9,"y":74,"g":"BD"},{"x":5.15,"y":74,"g":"BD"},{"x":0.81,"y":73,"g":"BD"},{"x":3.38,"y":73.3,"g":"BD"},{"x":0.35,"y":72,"g":"BD"},{"x":0.7,"y":72,"g":"BD"},{"x":1.02,"y":72,"g":"BD"},{"x":1.05,"y":72,"g":"BD"},{"x":2.1,"y":72,"g":"BD"},{"x":0.14,"y":71,"g":"BD"},{"x":0.53,"y":71,"g":"BD"},{"x":0.63,"y":71,"g":"BD"},{"x":0.84,"y":71,"g":"BD"},{"x":0.96,"y":71,"g":"BD"},{"x":1.08,"y":71,"g":"BD"},{"x":5.66,"y":71,"g":"BD"},{"x":0.84,"y":70,"g":"BD"},{"x":2.34,"y":70,"g":"BD"},{"x":2.63,"y":70,"g":"BD"},{"x":4.62,"y":70,"g":"BD"},{"x":0.4,"y":69,"g":"BD"},{"x":1.42,"y":69,"g":"BD"},{"x":2.95,"y":69,"g":"BD"},{"x":0.45,"y":68,"g":"BD"},{"x":0.5,"y":68,"g":"BD"},{"x":1.5,"y":68,"g":"BD"},{"x":1.57,"y":68,"g":"BD"},{"x":2.12,"y":68,"g":"BD"},{"x":4.1,"y":68,"g":"BD"},{"x":0.35,"y":67,"g":"BD"},{"x":0.84,"y":67,"g":"BD"},{"x":0.38,"y":65,"g":"BD"},{"x":0.66,"y":65,"g":"BD"},{"x":1.6,"y":65,"g":"BD"},{"x":2.25,"y":65,"g":"BD"},{"x":4.15,"y":65,"g":"BD"},{"x":0.47,"y":64,"g":"BD"},{"x":0.64,"y":64,"g":"BD"},{"x":0.75,"y":64,"g":"BD"},{"x":1,"y":64,"g":"BD"},{"x":0.25,"y":63,"g":"BD"},{"x":0.7,"y":63,"g":"BD"},{"x":1.35,"y":63,"g":"BD"},{"x":1.83,"y":63,"g":"BD"},{"x":3.76,"y":62,"g":"BD"},{"x":5.53,"y":62,"g":"BD"},{"x":1.5,"y":61,"g":"BD"},{"x":4.9,"y":61,"g":"BD"},{"x":0.67,"y":59,"g":"BD"},{"x":1.77,"y":59,"g":"BD"},{"x":2.55,"y":59,"g":"BD"},{"x":2,"y":58,"g":"BD"},{"x":1,"y":57,"g":"BD"},{"x":1.27,"y":57,"g":"BD"},{"x":2.08,"y":57,"g":"BD"},{"x":2.75,"y":57,"g":"BD"},{"x":3.2,"y":57,"g":"BD"},{"x":0.48,"y":56,"g":"BD"},{"x":2.03,"y":56,"g":"BD"},{"x":0.45,"y":55,"g":"BD"},{"x":0.9,"y":55,"g":"BD"},{"x":0.55,"y":54,"g":"BD"},{"x":2.55,"y":54,"g":"BD"},{"x":3.27,"y":54,"g":"BD"},{"x":0.78,"y":53,"g":"BD"},{"x":0.97,"y":53,"g":"BD"},{"x":1.3,"y":53,"g":"BD"},{"x":1.9,"y":54,"g":"BD"},{"x":2.25,"y":52,"g":"BD"},{"x":2.5,"y":51,"g":"BD"},{"x":2.7,"y":50,"g":"BD"},{"x":0.6,"y":48.5,"g":"BD"},{"x":0.47,"y":48,"g":"BD"},{"x":1.56,"y":48,"g":"BD"},{"x":1.65,"y":48,"g":"BD"},{"x":0.73,"y":47,"g":"BD"},{"x":1.07,"y":46,"g":"BD"},{"x":5.17,"y":43,"g":"BD"}],
"cs":[{"x":0.12,"lo":59.7,"mid":61.2,"hi":63},{"x":1,"lo":60.6,"mid":61.6,"hi":62.8},{"x":2,"lo":61.2,"mid":62.1,"hi":63.4},{"x":3,"lo":60.9,"mid":62.6,"hi":64.8},{"x":4,"lo":60.6,"mid":63.1,"hi":66.1},{"x":5,"lo":60.3,"mid":63.6,"hi":67.3},{"x":6.2,"lo":60,"mid":64.2,"hi":68.5}],
"d":[
{"x":4.45,"y":91,"g":"HC"},{"x":4.05,"y":84,"g":"HC"},{"x":3.75,"y":80,"g":"HC"},{"x":6.75,"y":79,"g":"HC"},{"x":5.85,"y":78,"g":"HC"},{"x":7.05,"y":77,"g":"HC"},{"x":7.95,"y":76.5,"g":"HC"},{"x":3.15,"y":74,"g":"HC"},{"x":6.25,"y":74,"g":"HC"},{"x":6.7,"y":74,"g":"HC"},{"x":4.95,"y":73.5,"g":"HC"},{"x":1.9,"y":73,"g":"HC"},{"x":7.1,"y":73,"g":"HC"},{"x":7.25,"y":73,"g":"HC"},{"x":4.25,"y":72,"g":"HC"},{"x":4.1,"y":71,"g":"HC"},{"x":5.45,"y":71,"g":"HC"},{"x":6.4,"y":71,"g":"HC"},{"x":5.35,"y":70,"g":"HC"},{"x":4.6,"y":70,"g":"HC"},{"x":7.3,"y":70.5,"g":"HC"},{"x":2.8,"y":69,"g":"HC"},{"x":3.5,"y":69,"g":"HC"},{"x":3.65,"y":69,"g":"HC"},{"x":3.85,"y":69,"g":"HC"},{"x":4.25,"y":69,"g":"HC"},{"x":4.5,"y":69,"g":"HC"},{"x":4.65,"y":69,"g":"HC"},{"x":4,"y":68,"g":"HC"},{"x":4.15,"y":68,"g":"HC"},{"x":4.35,"y":68,"g":"HC"},{"x":5.85,"y":68,"g":"HC"},{"x":9.1,"y":68,"g":"HC"},{"x":4.15,"y":67,"g":"HC"},{"x":4.7,"y":67,"g":"HC"},{"x":5.6,"y":67,"g":"HC"},{"x":1.7,"y":66,"g":"HC"},{"x":3.15,"y":66,"g":"HC"},{"x":3.6,"y":66,"g":"HC"},{"x":4.45,"y":66,"g":"HC"},{"x":5,"y":66,"g":"HC"},{"x":5.25,"y":66,"g":"HC"},{"x":8.4,"y":66,"g":"HC"},{"x":2.6,"y":66.5,"g":"HC"},{"x":3.4,"y":65,"g":"HC"},{"x":4.3,"y":65,"g":"HC"},{"x":4.7,"y":65,"g":"HC"},{"x":5.05,"y":65,"g":"HC"},{"x":5.2,"y":65,"g":"HC"},{"x":6.75,"y":65,"g":"HC"},{"x":7.05,"y":65,"g":"HC"},{"x":8.9,"y":65,"g":"HC"},{"x":0.2,"y":64,"g":"HC"},{"x":3.15,"y":64,"g":"HC"},{"x":4.05,"y":64,"g":"HC"},{"x":4.45,"y":64,"g":"HC"},{"x":4.85,"y":64,"g":"HC"},{"x":5.15,"y":64,"g":"HC"},{"x":6.15,"y":64,"g":"HC"},{"x":10.35,"y":64,"g":"HC"},{"x":3.65,"y":63,"g":"HC"},{"x":4,"y":63,"g":"HC"},{"x":4.8,"y":63,"g":"HC"},{"x":5.25,"y":63,"g":"HC"},{"x":5.55,"y":63,"g":"HC"},{"x":6.25,"y":63,"g":"HC"},{"x":6.6,"y":63,"g":"HC"},{"x":3.2,"y":62,"g":"HC"},{"x":3.7,"y":62,"g":"HC"},{"x":4.2,"y":62,"g":"HC"},{"x":4.8,"y":62,"g":"HC"},{"x":5.15,"y":62,"g":"HC"},{"x":5.65,"y":62,"g":"HC"},{"x":6,"y":62,"g":"HC"},{"x":6.55,"y":62,"g":"HC"},{"x":7,"y":62,"g":"HC"},{"x":2.4,"y":61,"g":"HC"},{"x":3.35,"y":61,"g":"HC"},{"x":4.1,"y":61,"g":"HC"},{"x":4.15,"y":61,"g":"HC"},{"x":4.4,"y":61,"g":"HC"},{"x":4.5,"y":61,"g":"HC"},{"x":4.7,"y":61,"g":"HC"},{"x":4.85,"y":61,"g":"HC"},{"x":5.1,"y":61,"g":"HC"},{"x":5.3,"y":61,"g":"HC"},{"x":5.5,"y":61,"g":"HC"},{"x":6,"y":61,"g":"HC"},{"x":6.4,"y":61,"g":"HC"},{"x":6.8,"y":61,"g":"HC"},{"x":7,"y":61,"g":"HC"},{"x":7.35,"y":61,"g":"HC"},{"x":7.7,"y":61,"g":"HC"},{"x":2.65,"y":60,"g":"HC"},{"x":3.75,"y":60,"g":"HC"},{"x":4.3,"y":60,"g":"HC"},{"x":4.7,"y":60,"g":"HC"},{"x":4.95,"y":60,"g":"HC"},{"x":5.3,"y":60,"g":"HC"},{"x":5.85,"y":60,"g":"HC"},{"x":6.1,"y":60,"g":"HC"},{"x":6.4,"y":60,"g":"HC"},{"x":6.65,"y":60,"g":"HC"},{"x":7.2,"y":60,"g":"HC"},{"x":7.6,"y":60,"g":"HC"},{"x":3.45,"y":59,"g":"HC"},{"x":3.75,"y":59,"g":"HC"},{"x":4,"y":59,"g":"HC"},{"x":4.55,"y":59,"g":"HC"},{"x":4.75,"y":59,"g":"HC"},{"x":5.05,"y":59,"g":"HC"},{"x":5.4,"y":59,"g":"HC"},{"x":5.9,"y":59,"g":"HC"},{"x":6.25,"y":59,"g":"HC"},{"x":6.7,"y":59,"g":"HC"},{"x":3.45,"y":58,"g":"HC"},{"x":3.8,"y":58,"g":"HC"},{"x":4.3,"y":58,"g":"HC"},{"x":4.55,"y":58,"g":"HC"},{"x":4.75,"y":58,"g":"HC"},{"x":4.95,"y":58,"g":"HC"},{"x":5.15,"y":58,"g":"HC"},{"x":5.35,"y":58,"g":"HC"},{"x":5.65,"y":58,"g":"HC"},{"x":6.15,"y":58,"g":"HC"},{"x":6.55,"y":58,"g":"HC"},{"x":7.35,"y":58,"g":"HC"},{"x":7.55,"y":58,"g":"HC"},{"x":7.65,"y":58,"g":"HC"},{"x":7.85,"y":58,"g":"HC"},{"x":3.15,"y":57,"g":"HC"},{"x":4.05,"y":57,"g":"HC"},{"x":4.4,"y":57,"g":"HC"},{"x":4.6,"y":57,"g":"HC"},{"x":4.9,"y":57,"g":"HC"},{"x":5.05,"y":57,"g":"HC"},{"x":5.3,"y":57,"g":"HC"},{"x":5.55,"y":57,"g":"HC"},{"x":5.7,"y":57,"g":"HC"},{"x":6.1,"y":57,"g":"HC"},{"x":6.45,"y":57,"g":"HC"},{"x":6.85,"y":57,"g":"HC"},{"x":7.25,"y":57,"g":"HC"},{"x":8.45,"y":57,"g":"HC"},{"x":10.9,"y":57,"g":"HC"},{"x":11.6,"y":57,"g":"HC"},{"x":3.3,"y":56,"g":"HC"},{"x":3.9,"y":56,"g":"HC"},{"x":4.25,"y":56,"g":"HC"},{"x":4.65,"y":56,"g":"HC"},{"x":5.35,"y":56,"g":"HC"},{"x":5.6,"y":56,"g":"HC"},{"x":6.1,"y":56,"g":"HC"},{"x":6.3,"y":56,"g":"HC"},{"x":6.55,"y":56,"g":"HC"},{"x":0.85,"y":55,"g":"HC"},{"x":3.4,"y":55,"g":"HC"},{"x":3.55,"y":55,"g":"HC"},{"x":4,"y":55,"g":"HC"},{"x":4.35,"y":55,"g":"HC"},{"x":4.55,"y":55,"g":"HC"},{"x":4.9,"y":55,"g":"HC"},{"x":5.25,"y":55,"g":"HC"},{"x":5.65,"y":55,"g":"HC"},{"x":6.05,"y":55,"g":"HC"},{"x":6.3,"y":55,"g":"HC"},{"x":6.5,"y":55,"g":"HC"},{"x":7.45,"y":55,"g":"HC"},{"x":7.85,"y":55,"g":"HC"},{"x":9.15,"y":55,"g":"HC"},{"x":3.4,"y":54,"g":"HC"},{"x":3.7,"y":54,"g":"HC"},{"x":4.25,"y":54,"g":"HC"},{"x":4.85,"y":54,"g":"HC"},{"x":5.55,"y":54,"g":"HC"},{"x":6,"y":54,"g":"HC"},{"x":6.45,"y":54,"g":"HC"},{"x":6.7,"y":54,"g":"HC"},{"x":9.55,"y":54,"g":"HC"},{"x":2.7,"y":53,"g":"HC"},{"x":3.6,"y":53,"g":"HC"},{"x":3.8,"y":53,"g":"HC"},{"x":4.4,"y":53,"g":"HC"},{"x":4.75,"y":53,"g":"HC"},{"x":5.55,"y":53,"g":"HC"},{"x":5.8,"y":53,"g":"HC"},{"x":6.4,"y":53,"g":"HC"},{"x":6.7,"y":53,"g":"HC"},{"x":6.95,"y":53,"g":"HC"},{"x":8.3,"y":53,"g":"HC"},{"x":2.6,"y":52,"g":"HC"},{"x":3.7,"y":52,"g":"HC"},{"x":4,"y":52,"g":"HC"},{"x":4.4,"y":52,"g":"HC"},{"x":4.95,"y":52,"g":"HC"},{"x":5.2,"y":52,"g":"HC"},{"x":5.85,"y":52,"g":"HC"},{"x":6,"y":52,"g":"HC"},{"x":6.55,"y":52,"g":"HC"},{"x":1,"y":51,"g":"HC"},{"x":2.85,"y":51,"g":"HC"},{"x":3.3,"y":51,"g":"HC"},{"x":3.7,"y":51,"g":"HC"},{"x":4.1,"y":51,"g":"HC"},{"x":4.5,"y":51,"g":"HC"},{"x":5.55,"y":51,"g":"HC"},{"x":6.6,"y":51,"g":"HC"},{"x":7.05,"y":51,"g":"HC"},{"x":7.25,"y":51,"g":"HC"},{"x":3.55,"y":50,"g":"HC"},{"x":4,"y":50,"g":"HC"},{"x":4.15,"y":50,"g":"HC"},{"x":5.05,"y":50,"g":"HC"},{"x":5.2,"y":50,"g":"HC"},{"x":6.55,"y":50,"g":"HC"},{"x":7.15,"y":50,"g":"HC"},{"x":7.35,"y":50,"g":"HC"},{"x":3.15,"y":49,"g":"HC"},{"x":3.35,"y":49,"g":"HC"},{"x":3.7,"y":49,"g":"HC"},{"x":4.4,"y":49,"g":"HC"},{"x":4.6,"y":49,"g":"HC"},{"x":4.95,"y":49,"g":"HC"},{"x":5.6,"y":49,"g":"HC"},{"x":6.55,"y":49,"g":"HC"},{"x":6.7,"y":49,"g":"HC"},{"x":7.55,"y":49,"g":"HC"},{"x":3.35,"y":48,"g":"HC"},{"x":3.5,"y":48,"g":"HC"},{"x":3.65,"y":48,"g":"HC"},{"x":4.15,"y":48,"g":"HC"},{"x":5.5,"y":48,"g":"HC"},{"x":4.1,"y":47,"g":"HC"},{"x":5.05,"y":47,"g":"HC"},{"x":5.25,"y":47,"g":"HC"},{"x":5.95,"y":47,"g":"HC"},{"x":6.6,"y":47,"g":"HC"},{"x":8.65,"y":47,"g":"HC"},{"x":3,"y":46,"g":"HC"},{"x":3.7,"y":46,"g":"HC"},{"x":4.9,"y":46,"g":"HC"},{"x":5,"y":46,"g":"HC"},{"x":6.1,"y":46,"g":"HC"},{"x":6.3,"y":46,"g":"HC"},{"x":2.6,"y":45,"g":"HC"},{"x":3.3,"y":45,"g":"HC"},{"x":5,"y":45,"g":"HC"},{"x":6.1,"y":45,"g":"HC"},{"x":7.15,"y":45,"g":"HC"},{"x":5.1,"y":44,"g":"HC"},{"x":7.6,"y":44,"g":"HC"},{"x":4.3,"y":43.5,"g":"HC"},{"x":5.45,"y":43,"g":"HC"},{"x":6.35,"y":43,"g":"HC"},{"x":4.55,"y":42,"g":"HC"},{"x":6.9,"y":42,"g":"HC"},{"x":3.9,"y":41,"g":"HC"},{"x":5.4,"y":40.3,"g":"HC"},{"x":4.9,"y":39,"g":"HC"},{"x":5.6,"y":38,"g":"HC"},
{"x":2.6,"y":97,"g":"SCZ"},{"x":6.8,"y":91,"g":"SCZ"},{"x":5.2,"y":89,"g":"SCZ"},{"x":6.15,"y":87,"g":"SCZ"},{"x":3.5,"y":85,"g":"SCZ"},{"x":5.6,"y":85,"g":"SCZ"},{"x":3.25,"y":84,"g":"SCZ"},{"x":7.45,"y":84,"g":"SCZ"},{"x":3.4,"y":82,"g":"SCZ"},{"x":8,"y":82,"g":"SCZ"},{"x":9.05,"y":81,"g":"SCZ"},{"x":4.05,"y":80,"g":"SCZ"},{"x":4.3,"y":80,"g":"SCZ"},{"x":4.85,"y":80,"g":"SCZ"},{"x":9.15,"y":80,"g":"SCZ"},{"x":6.2,"y":79,"g":"SCZ"},{"x":7.7,"y":79,"g":"SCZ"},{"x":8.85,"y":79,"g":"SCZ"},{"x":2.1,"y":76,"g":"SCZ"},{"x":3.3,"y":76,"g":"SCZ"},{"x":13,"y":76,"g":"SCZ"},{"x":5.4,"y":75,"g":"SCZ"},{"x":7.05,"y":75.3,"g":"SCZ"},{"x":7.45,"y":75,"g":"SCZ"},{"x":9,"y":75,"g":"SCZ"},{"x":5.25,"y":74,"g":"SCZ"},{"x":6.65,"y":73,"g":"SCZ"},{"x":9.6,"y":73,"g":"SCZ"},{"x":6.15,"y":72,"g":"SCZ"},{"x":6.45,"y":72,"g":"SCZ"},{"x":9,"y":72,"g":"SCZ"},{"x":10.45,"y":72,"g":"SCZ"},{"x":7.7,"y":71,"g":"SCZ"},{"x":4.7,"y":70,"g":"SCZ"},{"x":7.2,"y":70,"g":"SCZ"},{"x":5.8,"y":69,"g":"SCZ"},{"x":5.95,"y":68,"g":"SCZ"},{"x":7.35,"y":68,"g":"SCZ"},{"x":7.55,"y":68,"g":"SCZ"},{"x":7.85,"y":68,"g":"SCZ"},{"x":4.9,"y":67,"g":"SCZ"},{"x":5.3,"y":67,"g":"SCZ"},{"x":5.8,"y":67,"g":"SCZ"},{"x":7.3,"y":67,"g":"SCZ"},{"x":7.75,"y":67,"g":"SCZ"},{"x":7.95,"y":67,"g":"SCZ"},{"x":8.1,"y":67,"g":"SCZ"},{"x":8.6,"y":67,"g":"SCZ"},{"x":11.75,"y":67,"g":"SCZ"},{"x":8.75,"y":66,"g":"SCZ"},{"x":9.3,"y":66.3,"g":"SCZ"},{"x":11.75,"y":66,"g":"SCZ"},{"x":3.7,"y":65,"g":"SCZ"},{"x":6.9,"y":65,"g":"SCZ"},{"x":8.4,"y":65,"g":"SCZ"},{"x":12.35,"y":65,"g":"SCZ"},{"x":4.75,"y":64,"g":"SCZ"},{"x":5.9,"y":64,"g":"SCZ"},{"x":9.2,"y":62,"g":"SCZ"},{"x":7.35,"y":62,"g":"SCZ"},{"x":3.65,"y":61,"g":"SCZ"},{"x":4.35,"y":61,"g":"SCZ"},{"x":8.65,"y":59.5,"g":"SCZ"},{"x":6.95,"y":59,"g":"SCZ"},{"x":7.15,"y":59,"g":"SCZ"},{"x":0.4,"y":58,"g":"SCZ"},{"x":4.15,"y":58,"g":"SCZ"},{"x":5.8,"y":58,"g":"SCZ"},{"x":8.15,"y":58,"g":"SCZ"},{"x":7.7,"y":55.5,"g":"SCZ"},{"x":5.5,"y":55,"g":"SCZ"},{"x":5.65,"y":55,"g":"SCZ"},{"x":8.2,"y":55,"g":"SCZ"},{"x":13.15,"y":52,"g":"SCZ"},{"x":12.65,"y":51,"g":"SCZ"},{"x":3.55,"y":50,"g":"SCZ"},{"x":5.9,"y":50,"g":"SCZ"},{"x":8.6,"y":48,"g":"SCZ"},{"x":5.85,"y":46,"g":"SCZ"},{"x":6.05,"y":44,"g":"SCZ"},
{"x":3.4,"y":104,"g":"BD"},{"x":3.7,"y":102,"g":"BD"},{"x":3.9,"y":95,"g":"BD"},{"x":5.25,"y":94,"g":"BD"},{"x":3.55,"y":92,"g":"BD"},{"x":7.25,"y":91,"g":"BD"},{"x":4.5,"y":90,"g":"BD"},{"x":10.45,"y":90.3,"g":"BD"},{"x":5.6,"y":89,"g":"BD"},{"x":6.05,"y":89,"g":"BD"},{"x":8.5,"y":88.3,"g":"BD"},{"x":6.4,"y":87,"g":"BD"},{"x":6.55,"y":87,"g":"BD"},{"x":3.85,"y":84,"g":"BD"},{"x":6.15,"y":84,"g":"BD"},{"x":7.3,"y":84,"g":"BD"},{"x":3.2,"y":82,"g":"BD"},{"x":3.3,"y":82,"g":"BD"},{"x":4,"y":81,"g":"BD"},{"x":8.95,"y":81,"g":"BD"},{"x":3.05,"y":80,"g":"BD"},{"x":3.65,"y":80,"g":"BD"},{"x":5.5,"y":80,"g":"BD"},{"x":5.8,"y":80,"g":"BD"},{"x":6,"y":80,"g":"BD"},{"x":4.6,"y":79,"g":"BD"},{"x":9.6,"y":79,"g":"BD"},{"x":4.45,"y":78,"g":"BD"},{"x":5.3,"y":78,"g":"BD"},{"x":5.05,"y":77.5,"g":"BD"},{"x":4.3,"y":77,"g":"BD"},{"x":5.2,"y":77,"g":"BD"},{"x":5.6,"y":77,"g":"BD"},{"x":6,"y":77,"g":"BD"},{"x":7.3,"y":77,"g":"BD"},{"x":9.85,"y":77,"g":"BD"},{"x":4.9,"y":76,"g":"BD"},{"x":6.6,"y":76,"g":"BD"},{"x":6.75,"y":76,"g":"BD"},{"x":7.9,"y":76,"g":"BD"},{"x":12.75,"y":76,"g":"BD"},{"x":7.25,"y":75,"g":"BD"},{"x":8,"y":75,"g":"BD"},{"x":3.75,"y":74,"g":"BD"},{"x":3.95,"y":74,"g":"BD"},{"x":4.25,"y":74,"g":"BD"},{"x":6.4,"y":74,"g":"BD"},{"x":6.85,"y":74,"g":"BD"},{"x":7.4,"y":74,"g":"BD"},{"x":8.75,"y":74,"g":"BD"},{"x":4.4,"y":73.5,"g":"BD"},{"x":5.85,"y":72,"g":"BD"},{"x":7.55,"y":72,"g":"BD"},{"x":8.3,"y":72,"g":"BD"},{"x":2.65,"y":71,"g":"BD"},{"x":3.2,"y":71,"g":"BD"},{"x":4.25,"y":71,"g":"BD"},{"x":5.05,"y":71,"g":"BD"},{"x":5.15,"y":71,"g":"BD"},{"x":7,"y":71,"g":"BD"},{"x":9.95,"y":71,"g":"BD"},{"x":4.55,"y":70,"g":"BD"},{"x":5,"y":70,"g":"BD"},{"x":6.65,"y":70,"g":"BD"},{"x":10,"y":70,"g":"BD"},{"x":3.45,"y":69,"g":"BD"},{"x":6.75,"y":69,"g":"BD"},{"x":7.75,"y":69,"g":"BD"},{"x":3.05,"y":68,"g":"BD"},{"x":3.25,"y":68,"g":"BD"},{"x":4.25,"y":68,"g":"BD"},{"x":4.8,"y":68,"g":"BD"},{"x":4.95,"y":68,"g":"BD"},{"x":7.7,"y":68,"g":"BD"},{"x":7.85,"y":68,"g":"BD"},{"x":8.7,"y":68,"g":"BD"},{"x":10.6,"y":68,"g":"BD"},{"x":2.05,"y":67,"g":"BD"},{"x":5.3,"y":67,"g":"BD"},{"x":5.9,"y":67,"g":"BD"},{"x":4.75,"y":66,"g":"BD"},{"x":2.7,"y":65,"g":"BD"},{"x":4.9,"y":65,"g":"BD"},{"x":5,"y":65,"g":"BD"},{"x":6.6,"y":65,"g":"BD"},{"x":5.6,"y":64,"g":"BD"},{"x":6.1,"y":64,"g":"BD"},{"x":6.95,"y":64,"g":"BD"},{"x":2.55,"y":63,"g":"BD"},{"x":4.3,"y":63,"g":"BD"},{"x":5,"y":63,"g":"BD"},{"x":9.4,"y":63,"g":"BD"},{"x":11.3,"y":63,"g":"BD"},{"x":3.7,"y":58,"g":"BD"},{"x":4.3,"y":57,"g":"BD"},{"x":6.4,"y":57,"g":"BD"},{"x":8.3,"y":57,"g":"BD"},{"x":8.7,"y":57,"g":"BD"},{"x":3.75,"y":55,"g":"BD"},{"x":5,"y":55,"g":"BD"},{"x":6.75,"y":55,"g":"BD"},{"x":8.7,"y":55.3,"g":"BD"},{"x":3.05,"y":54,"g":"BD"},{"x":3.85,"y":54,"g":"BD"},{"x":4.1,"y":54,"g":"BD"},{"x":3.25,"y":53,"g":"BD"},{"x":5,"y":53,"g":"BD"},{"x":6.55,"y":52.5,"g":"BD"},{"x":9.75,"y":50,"g":"BD"},{"x":4.8,"y":48,"g":"BD"},{"x":4.95,"y":48,"g":"BD"},{"x":5.55,"y":48,"g":"BD"},{"x":5.9,"y":48.3,"g":"BD"},{"x":6.5,"y":47,"g":"BD"},{"x":8.6,"y":46,"g":"BD"},{"x":7.05,"y":43,"g":"BD"}],
"ds":[{"x":0.2,"lo":56.6,"mid":60.1,"hi":63.4},{"x":2,"lo":58.7,"mid":60.7,"hi":62.9},{"x":4,"lo":60.5,"mid":61.4,"hi":62.8},{"x":5,"lo":61,"mid":61.8,"hi":62.8},{"x":6,"lo":61.3,"mid":62.1,"hi":63.2},{"x":8,"lo":61.3,"mid":62.9,"hi":65},{"x":10,"lo":61,"mid":63.6,"hi":66.6},{"x":13.15,"lo":60.3,"mid":64.7,"hi":69.2}],
"e":[
{"x":2.43,"y":84,"g":"HC"},{"x":1.26,"y":80,"g":"HC"},{"x":2.08,"y":79,"g":"HC"},{"x":3.14,"y":79,"g":"HC"},{"x":2.08,"y":78,"g":"HC"},{"x":2.18,"y":76.5,"g":"HC"},{"x":1.83,"y":74,"g":"HC"},{"x":1.95,"y":74,"g":"HC"},{"x":1.37,"y":72,"g":"HC"},{"x":1.14,"y":71,"g":"HC"},{"x":2.95,"y":71,"g":"HC"},{"x":2.9,"y":70,"g":"HC"},{"x":2.82,"y":69,"g":"HC"},{"x":1.05,"y":68,"g":"HC"},{"x":1.47,"y":68,"g":"HC"},{"x":4.32,"y":68,"g":"HC"},{"x":1.85,"y":67,"g":"HC"},{"x":3.72,"y":67,"g":"HC"},{"x":1.28,"y":66,"g":"HC"},{"x":1.32,"y":66,"g":"HC"},{"x":1.36,"y":66,"g":"HC"},{"x":1.55,"y":66,"g":"HC"},{"x":1.66,"y":66,"g":"HC"},{"x":1.75,"y":66,"g":"HC"},{"x":1.98,"y":66,"g":"HC"},{"x":2.5,"y":66,"g":"HC"},{"x":1.3,"y":65,"g":"HC"},{"x":1.82,"y":65,"g":"HC"},{"x":2.55,"y":65,"g":"HC"},{"x":1.49,"y":64.5,"g":"HC"},{"x":1.07,"y":64,"g":"HC"},{"x":1.55,"y":64,"g":"HC"},{"x":1.6,"y":64,"g":"HC"},{"x":1.75,"y":64,"g":"HC"},{"x":2,"y":64,"g":"HC"},{"x":2.12,"y":64,"g":"HC"},{"x":1.78,"y":63,"g":"HC"},{"x":1.83,"y":63,"g":"HC"},{"x":2.1,"y":63,"g":"HC"},{"x":2.15,"y":63,"g":"HC"},{"x":2.17,"y":63,"g":"HC"},{"x":3.9,"y":63,"g":"HC"},{"x":1.19,"y":62,"g":"HC"},{"x":1.36,"y":62,"g":"HC"},{"x":1.77,"y":62,"g":"HC"},{"x":3.62,"y":62,"g":"HC"},{"x":1.14,"y":61,"g":"HC"},{"x":1.4,"y":61,"g":"HC"},{"x":1.48,"y":61,"g":"HC"},{"x":1.71,"y":61,"g":"HC"},{"x":1.78,"y":61,"g":"HC"},{"x":1.82,"y":61,"g":"HC"},{"x":1.85,"y":61,"g":"HC"},{"x":1.03,"y":60,"g":"HC"},{"x":1.35,"y":60,"g":"HC"},{"x":1.63,"y":60,"g":"HC"},{"x":2,"y":60,"g":"HC"},{"x":2.09,"y":60,"g":"HC"},{"x":2.9,"y":60,"g":"HC"},{"x":2.5,"y":59.5,"g":"HC"},{"x":1.1,"y":59,"g":"HC"},{"x":1.36,"y":59,"g":"HC"},{"x":1.44,"y":59,"g":"HC"},{"x":1.72,"y":59,"g":"HC"},{"x":1.78,"y":59,"g":"HC"},{"x":2.03,"y":59,"g":"HC"},{"x":2.1,"y":59,"g":"HC"},{"x":2.15,"y":59,"g":"HC"},{"x":2.37,"y":59,"g":"HC"},{"x":2.63,"y":59,"g":"HC"},{"x":2.74,"y":59,"g":"HC"},{"x":2.86,"y":59,"g":"HC"},{"x":3.84,"y":59,"g":"HC"},{"x":1.96,"y":58.5,"g":"HC"},{"x":1.23,"y":58,"g":"HC"},{"x":1.26,"y":58,"g":"HC"},{"x":1.39,"y":58,"g":"HC"},{"x":1.58,"y":58,"g":"HC"},{"x":1.93,"y":58,"g":"HC"},{"x":2.75,"y":58,"g":"HC"},{"x":3.32,"y":58,"g":"HC"},{"x":3.71,"y":58,"g":"HC"},{"x":3.74,"y":58,"g":"HC"},{"x":1.47,"y":57,"g":"HC"},{"x":1.6,"y":57,"g":"HC"},{"x":1.85,"y":57,"g":"HC"},{"x":2.05,"y":57,"g":"HC"},{"x":2.1,"y":57,"g":"HC"},{"x":2.7,"y":57,"g":"HC"},{"x":2.73,"y":57,"g":"HC"},{"x":2.95,"y":56,"g":"HC"},{"x":3.37,"y":57,"g":"HC"},{"x":1.13,"y":56,"g":"HC"},{"x":1.27,"y":56,"g":"HC"},{"x":1.98,"y":56,"g":"HC"},{"x":2.02,"y":56,"g":"HC"},{"x":2.31,"y":56,"g":"HC"},{"x":0.87,"y":55,"g":"HC"},{"x":1.17,"y":55,"g":"HC"},{"x":1.28,"y":55,"g":"HC"},{"x":1.37,"y":55,"g":"HC"},{"x":1.73,"y":55,"g":"HC"},{"x":1.76,"y":55,"g":"HC"},{"x":2.2,"y":55,"g":"HC"},{"x":2.65,"y":55,"g":"HC"},{"x":2.93,"y":55,"g":"HC"},{"x":3.3,"y":55,"g":"HC"},{"x":3.54,"y":55,"g":"HC"},{"x":1.02,"y":54.5,"g":"HC"},{"x":1.57,"y":54,"g":"HC"},{"x":1.86,"y":54,"g":"HC"},{"x":1.13,"y":53,"g":"HC"},{"x":1.17,"y":53,"g":"HC"},{"x":2.22,"y":53,"g":"HC"},{"x":2.29,"y":53,"g":"HC"},{"x":1.74,"y":52,"g":"HC"},{"x":2.79,"y":52,"g":"HC"},{"x":3.55,"y":52,"g":"HC"},{"x":3.96,"y":52,"g":"HC"},{"x":1.2,"y":51,"g":"HC"},{"x":1.58,"y":51,"g":"HC"},{"x":1.9,"y":51,"g":"HC"},{"x":1.97,"y":51,"g":"HC"},{"x":2.2,"y":51,"g":"HC"},{"x":2.29,"y":51,"g":"HC"},{"x":2.38,"y":51,"g":"HC"},{"x":2.64,"y":51,"g":"HC"},{"x":1.62,"y":50,"g":"HC"},{"x":1.97,"y":50,"g":"HC"},{"x":1.27,"y":49,"g":"HC"},{"x":1.36,"y":49,"g":"HC"},{"x":1.42,"y":49,"g":"HC"},{"x":1.45,"y":49,"g":"HC"},{"x":1.93,"y":49,"g":"HC"},{"x":2.68,"y":49,"g":"HC"},{"x":1.48,"y":48,"g":"HC"},{"x":1.6,"y":48,"g":"HC"},{"x":2.23,"y":48,"g":"HC"},{"x":2.57,"y":48,"g":"HC"},{"x":1.27,"y":47,"g":"HC"},{"x":1.6,"y":47,"g":"HC"},{"x":2.19,"y":47,"g":"HC"},{"x":1.24,"y":46,"g":"HC"},{"x":1.52,"y":46,"g":"HC"},{"x":1.6,"y":46,"g":"HC"},{"x":2.18,"y":46,"g":"HC"},{"x":2.49,"y":46,"g":"HC"},{"x":2.61,"y":46,"g":"HC"},{"x":4.03,"y":46,"g":"HC"},{"x":1.32,"y":45,"g":"HC"},{"x":1.46,"y":45,"g":"HC"},{"x":2.09,"y":45,"g":"HC"},{"x":1.69,"y":44,"g":"HC"},{"x":2.26,"y":44,"g":"HC"},{"x":1.25,"y":43,"g":"HC"},{"x":2.13,"y":43.3,"g":"HC"},{"x":2.28,"y":42,"g":"HC"},{"x":1.6,"y":41,"g":"HC"},{"x":3.13,"y":38,"g":"HC"},
{"x":1.21,"y":89,"g":"SCZ"},{"x":1.94,"y":85,"g":"SCZ"},{"x":3.14,"y":84,"g":"SCZ"},{"x":2.03,"y":82,"g":"SCZ"},{"x":2.07,"y":82,"g":"SCZ"},{"x":2.77,"y":80,"g":"SCZ"},{"x":2.12,"y":79,"g":"SCZ"},{"x":1.46,"y":75,"g":"SCZ"},{"x":2.36,"y":75,"g":"SCZ"},{"x":2.41,"y":72,"g":"SCZ"},{"x":3.07,"y":72,"g":"SCZ"},{"x":1.77,"y":68.4,"g":"SCZ"},{"x":1.71,"y":68,"g":"SCZ"},{"x":2.23,"y":68,"g":"SCZ"},{"x":1.78,"y":67,"g":"SCZ"},{"x":2.93,"y":67,"g":"SCZ"},{"x":5.48,"y":67,"g":"SCZ"},{"x":1.47,"y":65,"g":"SCZ"},{"x":2.68,"y":65,"g":"SCZ"},{"x":1.9,"y":64,"g":"SCZ"},{"x":1.26,"y":62,"g":"SCZ"},{"x":1.34,"y":61.7,"g":"SCZ"},{"x":2.23,"y":59,"g":"SCZ"},{"x":2.68,"y":58,"g":"SCZ"},{"x":2.86,"y":58,"g":"SCZ"},{"x":1.53,"y":57,"g":"SCZ"},{"x":2.24,"y":56,"g":"SCZ"},{"x":2.48,"y":55.5,"g":"SCZ"},{"x":1.25,"y":50,"g":"SCZ"},{"x":2.4,"y":46,"g":"SCZ"},
{"x":1.02,"y":102,"g":"BD"},{"x":1.54,"y":92,"g":"BD"},{"x":1.67,"y":90,"g":"BD"},{"x":2.55,"y":89,"g":"BD"},{"x":5.57,"y":87,"g":"BD"},{"x":3.02,"y":82,"g":"BD"},{"x":2.69,"y":81,"g":"BD"},{"x":1.77,"y":80,"g":"BD"},{"x":1.52,"y":77,"g":"BD"},{"x":2.08,"y":74,"g":"BD"},{"x":4.09,"y":74,"g":"BD"},{"x":3.15,"y":73.3,"g":"BD"},{"x":3.41,"y":71,"g":"BD"},{"x":3.15,"y":70,"g":"BD"},{"x":1.89,"y":68,"g":"BD"},{"x":2.33,"y":66,"g":"BD"},{"x":0.87,"y":65,"g":"BD"},{"x":1.91,"y":65,"g":"BD"},{"x":4.21,"y":63,"g":"BD"},{"x":2,"y":62,"g":"BD"},{"x":2.56,"y":62,"g":"BD"},{"x":3.02,"y":58,"g":"BD"},{"x":3.22,"y":58,"g":"BD"},{"x":0.95,"y":57,"g":"BD"},{"x":1.92,"y":57,"g":"BD"},{"x":1.55,"y":56,"g":"BD"},{"x":2.82,"y":54,"g":"BD"},{"x":3.21,"y":52,"g":"BD"},{"x":1.82,"y":51,"g":"BD"},{"x":2.47,"y":48,"g":"BD"},{"x":2.65,"y":48,"g":"BD"}],
"es":[{"x":0.87,"lo":56.2,"mid":59.2,"hi":62.5},{"x":1.5,"lo":58.1,"mid":60,"hi":62.5},{"x":2,"lo":59.2,"mid":60.5,"hi":62.7},{"x":2.5,"lo":59.5,"mid":61.1,"hi":63.7},{"x":3,"lo":59.2,"mid":61.7,"hi":65.2},{"x":4,"lo":58,"mid":62.9,"hi":68.7},{"x":5.57,"lo":56.8,"mid":64.8,"hi":72.8}]
},
"vconcat":[
{"vconcat":[
{"hconcat":[
{"width":275,"height":276.7,"encoding":{"x":{"field":"x","type":"quantitative","title":"RANTES","scale":{"domain":[0.0048,0.349],"nice":false,"zero":false},"axis":{"values":[0.1,0.2,0.3],"format":".1f","titlePadding":2,"labelFontSize":9.6,"titleFontSize":11.7}}},"layer":[
{"data":{"name":"a"},"mark":{"type":"point","filled":true,"opacity":1},"encoding":{"y":{"field":"y","type":"quantitative","title":"Impulsivity","scale":{"domain":[34.83,107.4],"nice":false,"zero":false},"axis":{"values":[40,60,80,100],"titlePadding":0,"labelFontSize":9.6,"titleFontSize":11.7}},"color":{"field":"g","type":"nominal","legend":null,"scale":{"domain":["SCZ","BD","HC"],"range":["#F8766D","#00BA38","#619CFF"]}},"shape":{"field":"g","type":"nominal","legend":null,"scale":{"domain":["SCZ","BD","HC"],"range":["circle","triangle-up","square"]}},"size":{"field":"g","type":"nominal","legend":null,"scale":{"type":"ordinal","domain":["SCZ","BD","HC"],"range":[10,18,11]}}}},
{"data":{"name":"as"},"mark":{"type":"area","color":"#999999","opacity":0.35},"encoding":{"y":{"field":"lo","type":"quantitative","title":"Impulsivity","axis":{"values":[40,60,80,100],"titlePadding":0,"labelFontSize":9.6,"titleFontSize":11.7},"scale":{"domain":[34.83,107.4],"nice":false,"zero":false}},"y2":{"field":"hi"}}},
{"data":{"name":"as"},"mark":{"type":"line","color":"#000","strokeWidth":2},"encoding":{"y":{"field":"mid","type":"quantitative","title":"Impulsivity","axis":{"values":[40,60,80,100],"titlePadding":0,"labelFontSize":9.6,"titleFontSize":11.7},"scale":{"domain":[34.83,107.4],"nice":false,"zero":false}}}}]},
{"width":275,"height":276.7,"encoding":{"x":{"field":"x","type":"quantitative","title":"IL−1RA","scale":{"domain":[-0.03,1.16],"nice":false,"zero":false},"axis":{"values":[0,0.3,0.6,0.9],"format":".1f","titlePadding":2,"labelFontSize":9.6,"titleFontSize":11.7}}},"layer":[
{"data":{"name":"b"},"mark":{"type":"point","filled":true,"opacity":1},"encoding":{"y":{"field":"y","type":"quantitative","title":"Impulsivity","scale":{"domain":[34.9,105.3],"nice":false,"zero":false},"axis":{"values":[40,60,80,100],"titlePadding":0,"labelFontSize":9.6,"titleFontSize":11.7}},"color":{"field":"g","type":"nominal","legend":null,"scale":{"domain":["SCZ","BD","HC"],"range":["#F8766D","#00BA38","#619CFF"]}},"shape":{"field":"g","type":"nominal","legend":null,"scale":{"domain":["SCZ","BD","HC"],"range":["circle","triangle-up","square"]}},"size":{"field":"g","type":"nominal","legend":null,"scale":{"type":"ordinal","domain":["SCZ","BD","HC"],"range":[10,18,11]}}}},
{"data":{"name":"bs"},"mark":{"type":"area","color":"#999999","opacity":0.35},"encoding":{"y":{"field":"lo","type":"quantitative","title":"Impulsivity","axis":{"values":[40,60,80,100],"titlePadding":0,"labelFontSize":9.6,"titleFontSize":11.7},"scale":{"domain":[34.9,105.3],"nice":false,"zero":false}},"y2":{"field":"hi"}}},
{"data":{"name":"bs"},"mark":{"type":"line","color":"#000","strokeWidth":2},"encoding":{"y":{"field":"mid","type":"quantitative","title":"Impulsivity","axis":{"values":[40,60,80,100],"titlePadding":0,"labelFontSize":9.6,"titleFontSize":11.7},"scale":{"domain":[34.9,105.3],"nice":false,"zero":false}}}}]}
],"spacing":137.6,"bounds":"flush","resolve":{"scale":{"color":"independent","shape":"independent","size":"independent"}}},
{"hconcat":[
{"width":285.7,"height":288.4,"encoding":{"x":{"field":"x","type":"quantitative","title":"IL−18","scale":{"domain":[-0.18,6.53],"nice":false,"zero":false},"axis":{"values":[0,2,4,6],"titlePadding":2.5,"labelFontSize":10,"titleFontSize":12.2}}},"layer":[
{"data":{"name":"c"},"mark":{"type":"point","filled":true,"opacity":1},"encoding":{"y":{"field":"y","type":"quantitative","title":"Impulsivity","scale":{"domain":[34.8,107.5],"nice":false,"zero":false},"axis":{"values":[40,60,80,100],"titlePadding":0.8,"labelFontSize":10,"titleFontSize":12.2}},"color":{"field":"g","type":"nominal","legend":null,"scale":{"domain":["SCZ","BD","HC"],"range":["#F8766D","#00BA38","#619CFF"]}},"shape":{"field":"g","type":"nominal","legend":null,"scale":{"domain":["SCZ","BD","HC"],"range":["circle","triangle-up","square"]}},"size":{"field":"g","type":"nominal","legend":null,"scale":{"type":"ordinal","domain":["SCZ","BD","HC"],"range":[10,18,11]}}}},
{"data":{"name":"cs"},"mark":{"type":"area","color":"#999999","opacity":0.35},"encoding":{"y":{"field":"lo","type":"quantitative","title":"Impulsivity","axis":{"values":[40,60,80,100],"titlePadding":0.8,"labelFontSize":10,"titleFontSize":12.2},"scale":{"domain":[34.8,107.5],"nice":false,"zero":false}},"y2":{"field":"hi"}}},
{"data":{"name":"cs"},"mark":{"type":"line","color":"#000","strokeWidth":2},"encoding":{"y":{"field":"mid","type":"quantitative","title":"Impulsivity","axis":{"values":[40,60,80,100],"titlePadding":0.8,"labelFontSize":10,"titleFontSize":12.2},"scale":{"domain":[34.8,107.5],"nice":false,"zero":false}}}}]},
{"width":286.7,"height":290,"encoding":{"x":{"field":"x","type":"quantitative","title":"IL−18BP","scale":{"domain":[-0.446,13.75],"nice":false,"zero":false},"axis":{"values":[0,5,10],"titlePadding":1,"labelFontSize":10,"titleFontSize":12.2}}},"layer":[
{"data":{"name":"d"},"mark":{"type":"point","filled":true,"opacity":1},"encoding":{"y":{"field":"y","type":"quantitative","title":"Impulsivity","scale":{"domain":[34.8,107.5],"nice":false,"zero":false},"axis":{"values":[40,60,80,100],"titlePadding":0.8,"labelFontSize":10,"titleFontSize":12.2}},"color":{"field":"g","type":"nominal","legend":null,"scale":{"domain":["SCZ","BD","HC"],"range":["#F8766D","#00BA38","#619CFF"]}},"shape":{"field":"g","type":"nominal","legend":null,"scale":{"domain":["SCZ","BD","HC"],"range":["circle","triangle-up","square"]}},"size":{"field":"g","type":"nominal","legend":null,"scale":{"type":"ordinal","domain":["SCZ","BD","HC"],"range":[10,18,11]}}}},
{"data":{"name":"ds"},"mark":{"type":"area","color":"#999999","opacity":0.35},"encoding":{"y":{"field":"lo","type":"quantitative","title":"Impulsivity","axis":{"values":[40,60,80,100],"titlePadding":0.8,"labelFontSize":10,"titleFontSize":12.2},"scale":{"domain":[34.8,107.5],"nice":false,"zero":false}},"y2":{"field":"hi"}}},
{"data":{"name":"ds"},"mark":{"type":"line","color":"#000","strokeWidth":2},"encoding":{"y":{"field":"mid","type":"quantitative","title":"Impulsivity","axis":{"values":[40,60,80,100],"titlePadding":0.8,"labelFontSize":10,"titleFontSize":12.2},"scale":{"domain":[34.8,107.5],"nice":false,"zero":false}}}}]}
],"spacing":126.3,"bounds":"flush","resolve":{"scale":{"color":"independent","shape":"independent","size":"independent"}}}
],"spacing":30,"resolve":{"scale":{"color":"independent","shape":"independent","size":"independent"}}},
{"width":292.4,"height":303.3,"encoding":{"x":{"field":"x","type":"quantitative","title":"sTNFR1","scale":{"domain":[0.647,5.807],"nice":false,"zero":false},"axis":{"values":[1,2,3,4,5],"titlePadding":1,"labelFontSize":10.8,"titleFontSize":12.5}}},"layer":[
{"data":{"name":"e"},"mark":{"type":"point","filled":true,"opacity":1},"encoding":{"y":{"field":"y","type":"quantitative","title":"Impulsivity","scale":{"domain":[34.9,107.4],"nice":false,"zero":false},"axis":{"values":[40,60,80,100],"titlePadding":0.7,"labelFontSize":10.8,"titleFontSize":12.5}},"color":{"field":"g","type":"nominal","title":null,"legend":{"orient":"none","legendX":306,"legendY":147.3,"symbolSize":12,"labelFontSize":11,"labelFont":"Liberation Sans","labelColor":"#000","rowPadding":1.5,"labelOffset":9},"scale":{"domain":["SCZ","BD","HC"],"range":["#F8766D","#00BA38","#619CFF"]}},"shape":{"field":"g","type":"nominal","title":null,"legend":{"orient":"none","legendX":306,"legendY":147.3,"symbolSize":12,"labelFontSize":11,"labelFont":"Liberation Sans","labelColor":"#000","rowPadding":1.5,"labelOffset":9},"scale":{"domain":["SCZ","BD","HC"],"range":["circle","triangle-up","square"]}},"size":{"field":"g","type":"nominal","legend":null,"scale":{"type":"ordinal","domain":["SCZ","BD","HC"],"range":[10,18,11]}}}},
{"data":{"name":"es"},"mark":{"type":"area","color":"#999999","opacity":0.35},"encoding":{"y":{"field":"lo","type":"quantitative","title":"Impulsivity","axis":{"values":[40,60,80,100],"titlePadding":0.7,"labelFontSize":10.8,"titleFontSize":12.5},"scale":{"domain":[34.9,107.4],"nice":false,"zero":false}},"y2":{"field":"hi"}}},
{"data":{"name":"es"},"mark":{"type":"line","color":"#000","strokeWidth":2},"encoding":{"y":{"field":"mid","type":"quantitative","title":"Impulsivity","axis":{"values":[40,60,80,100],"titlePadding":0.7,"labelFontSize":10.8,"titleFontSize":12.5},"scale":{"domain":[34.9,107.4],"nice":false,"zero":false}}}}]}
],"spacing":4,"resolve":{"scale":{"color":"independent","shape":"independent","size":"independent"}}}
